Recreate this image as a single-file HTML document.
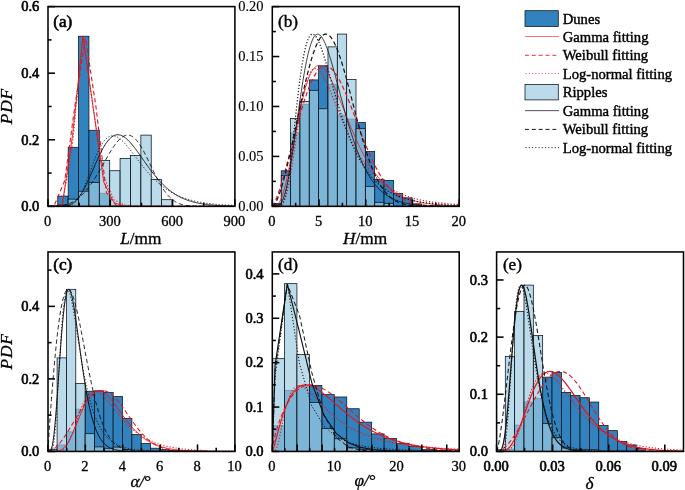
<!DOCTYPE html>
<html><head><meta charset="utf-8"><title>PDF histograms</title>
<style>
html,body{margin:0;padding:0;background:#fff;}
body{width:685px;height:490px;overflow:hidden;}
svg{display:block;will-change:transform;opacity:0.999;}
svg text{font-family:"Liberation Serif",serif;fill:#000;stroke:#000;stroke-width:0.3px;paint-order:stroke;}
svg text.h{stroke-width:0.6px;}
svg text.l{stroke-width:0.12px;}
svg text.m{stroke-width:0.42px;}
</style></head><body>
<svg width="685" height="490" viewBox="0 0 685 490">
<rect width="685" height="490" fill="#fff"/>
<clipPath id="cla"><rect x="48.00" y="6.60" width="186.90" height="199.75"/></clipPath>
<g clip-path="url(#cla)">
<rect x="57.78" y="196.10" width="10.38" height="10.25" fill="#3182bd" stroke="#08111c" stroke-width="0.75"/>
<rect x="68.17" y="147.29" width="10.38" height="59.06" fill="#3182bd" stroke="#08111c" stroke-width="0.75"/>
<rect x="78.55" y="36.23" width="10.38" height="170.12" fill="#3182bd" stroke="#08111c" stroke-width="0.75"/>
<rect x="88.93" y="130.25" width="10.38" height="76.10" fill="#3182bd" stroke="#08111c" stroke-width="0.75"/>
<rect x="99.32" y="193.27" width="10.38" height="13.08" fill="#3182bd" stroke="#08111c" stroke-width="0.75"/>
<rect x="109.70" y="205.35" width="10.38" height="1.00" fill="#3182bd" stroke="#08111c" stroke-width="0.75"/>
<rect x="57.78" y="205.02" width="10.38" height="1.33" fill="#9ecae1" fill-opacity="0.7" stroke="#08111c" stroke-width="0.75"/>
<rect x="68.17" y="199.16" width="10.38" height="7.19" fill="#9ecae1" fill-opacity="0.7" stroke="#08111c" stroke-width="0.75"/>
<rect x="78.55" y="191.24" width="10.38" height="15.11" fill="#9ecae1" fill-opacity="0.7" stroke="#08111c" stroke-width="0.75"/>
<rect x="88.93" y="182.48" width="10.38" height="23.87" fill="#9ecae1" fill-opacity="0.7" stroke="#08111c" stroke-width="0.75"/>
<rect x="99.32" y="160.54" width="10.38" height="45.81" fill="#9ecae1" fill-opacity="0.7" stroke="#08111c" stroke-width="0.75"/>
<rect x="109.70" y="170.73" width="10.38" height="35.62" fill="#9ecae1" fill-opacity="0.7" stroke="#08111c" stroke-width="0.75"/>
<rect x="120.08" y="158.51" width="10.38" height="47.84" fill="#9ecae1" fill-opacity="0.7" stroke="#08111c" stroke-width="0.75"/>
<rect x="130.47" y="155.41" width="10.38" height="50.94" fill="#9ecae1" fill-opacity="0.7" stroke="#08111c" stroke-width="0.75"/>
<rect x="140.85" y="135.11" width="10.38" height="71.24" fill="#9ecae1" fill-opacity="0.7" stroke="#08111c" stroke-width="0.75"/>
<rect x="151.23" y="179.38" width="10.38" height="26.97" fill="#9ecae1" fill-opacity="0.7" stroke="#08111c" stroke-width="0.75"/>
<rect x="161.62" y="199.69" width="10.38" height="6.66" fill="#9ecae1" fill-opacity="0.7" stroke="#08111c" stroke-width="0.75"/>
<polyline points="48.00,206.35 51.84,206.35 62.22,204.92 72.61,134.90 82.99,35.90 93.37,108.92 103.76,182.16 114.14,202.87 124.52,206.01 134.91,206.33 145.29,206.35 155.67,206.35 166.06,206.35 176.44,206.35 186.82,206.35 197.21,206.35 207.59,206.35 217.97,206.35 228.36,206.35 234.90,206.35 234.90,206.35" fill="none" stroke="#e8141c" stroke-width="0.9"/>
<polyline points="48.00,206.35 54.40,205.14 64.78,180.52 75.17,103.82 85.55,38.23 95.93,106.50 106.32,192.41 116.70,206.11 127.08,206.35 137.47,206.35 147.85,206.35 158.23,206.35 168.62,206.35 179.00,206.35 189.38,206.35 199.77,206.35 210.15,206.35 220.53,206.35 230.92,206.35 234.90,206.35 234.90,206.35" fill="none" stroke="#e8141c" stroke-width="1.1" stroke-dasharray="4.4 2.8"/>
<polyline points="48.00,206.35 51.84,206.35 62.22,206.08 72.61,142.39 82.99,37.23 93.37,109.20 103.76,177.31 114.14,199.97 124.52,205.14 134.91,206.14 145.29,206.31 155.67,206.34 166.06,206.35 176.44,206.35 186.82,206.35 197.21,206.35 207.59,206.35 217.97,206.35 228.36,206.35 234.90,206.35 234.90,206.35" fill="none" stroke="#e8141c" stroke-width="1.1" stroke-dasharray="1.2 1.9"/>
<polyline points="48.00,206.35 48.85,206.35 49.71,206.35 50.56,206.35 51.41,206.35 52.27,206.35 53.12,206.35 53.97,206.35 54.83,206.35 55.68,206.35 56.53,206.35 57.39,206.34 58.24,206.34 59.09,206.33 59.95,206.31 60.80,206.29 61.65,206.25 62.51,206.21 63.36,206.15 64.22,206.07 65.07,205.96 65.92,205.83 66.78,205.67 67.63,205.47 68.48,205.23 69.34,204.94 70.19,204.60 71.04,204.20 71.90,203.74 72.75,203.22 73.60,202.62 74.46,201.96 75.31,201.22 76.16,200.40 77.02,199.49 77.87,198.51 78.72,197.44 79.58,196.30 80.43,195.07 81.28,193.75 82.14,192.36 82.99,190.90 83.84,189.36 84.70,187.75 85.55,186.08 86.40,184.35 87.26,182.56 88.11,180.73 88.96,178.86 89.82,176.95 90.67,175.01 91.52,173.06 92.38,171.09 93.23,169.11 94.08,167.13 94.94,165.17 95.79,163.22 96.65,161.29 97.50,159.39 98.35,157.52 99.21,155.70 100.06,153.93 100.91,152.21 101.77,150.56 102.62,148.96 103.47,147.44 104.33,145.99 105.18,144.62 106.03,143.33 106.89,142.13 107.74,141.01 108.59,139.98 109.45,139.04 110.30,138.19 111.15,137.44 112.01,136.78 112.86,136.21 113.71,135.74 114.57,135.36 115.42,135.07 116.27,134.87 117.13,134.76 117.98,134.74 118.83,134.80 119.69,134.95 120.54,135.17 121.39,135.48 122.25,135.86 123.10,136.31 123.95,136.83 124.81,137.41 125.66,138.06 126.52,138.77 127.37,139.53 128.22,140.35 129.08,141.21 129.93,142.12 130.78,143.08 131.64,144.07 132.49,145.10 133.34,146.15 134.20,147.24 135.05,148.36 135.90,149.49 136.76,150.65 137.61,151.82 138.46,153.01 139.32,154.21 140.17,155.42 141.02,156.63 141.88,157.85 142.73,159.07 143.58,160.28 144.44,161.50 145.29,162.71 146.14,163.91 147.00,165.11 147.85,166.30 148.70,167.47 149.56,168.63 150.41,169.78 151.26,170.91 152.12,172.03 152.97,173.13 153.82,174.21 154.68,175.27 155.53,176.31 156.38,177.33 157.24,178.33 158.09,179.31 158.95,180.27 159.80,181.21 160.65,182.12 161.51,183.01 162.36,183.88 163.21,184.73 164.07,185.55 164.92,186.35 165.77,187.13 166.63,187.88 167.48,188.62 168.33,189.33 169.19,190.02 170.04,190.68 170.89,191.33 171.75,191.95 172.60,192.56 173.45,193.14 174.31,193.71 175.16,194.25 176.01,194.77 176.87,195.28 177.72,195.77 178.57,196.24 179.43,196.69 180.28,197.12 181.13,197.54 181.99,197.94 182.84,198.33 183.69,198.70 184.55,199.06 185.40,199.40 186.25,199.73 187.11,200.04 187.96,200.34 188.82,200.63 189.67,200.91 190.52,201.17 191.38,201.42 192.23,201.67 193.08,201.90 193.94,202.12 194.79,202.33 195.64,202.53 196.50,202.72 197.35,202.91 198.20,203.08 199.06,203.25 199.91,203.41 200.76,203.56 201.62,203.71 202.47,203.84 203.32,203.98 204.18,204.10 205.03,204.22 205.88,204.33 206.74,204.44 207.59,204.54 208.44,204.64 209.30,204.73 210.15,204.82 211.00,204.90 211.86,204.98 212.71,205.06 213.56,205.13 214.42,205.19 215.27,205.26 216.12,205.32 216.98,205.38 217.83,205.43 218.68,205.48 219.54,205.53 220.39,205.58 221.25,205.62 222.10,205.66 222.95,205.70 223.81,205.74 224.66,205.77 225.51,205.81 226.37,205.84 227.22,205.87 228.07,205.90 228.93,205.92 229.78,205.95 230.63,205.97 231.49,205.99 232.34,206.01 233.19,206.03 234.05,206.05 234.90,206.07" fill="none" stroke="#111" stroke-width="0.9"/>
<polyline points="48.00,206.35 48.85,206.35 49.71,206.35 50.56,206.35 51.41,206.34 52.27,206.33 53.12,206.31 53.97,206.29 54.83,206.26 55.68,206.22 56.53,206.17 57.39,206.10 58.24,206.03 59.09,205.94 59.95,205.84 60.80,205.73 61.65,205.59 62.51,205.44 63.36,205.27 64.22,205.08 65.07,204.87 65.92,204.64 66.78,204.39 67.63,204.11 68.48,203.80 69.34,203.47 70.19,203.11 71.04,202.73 71.90,202.31 72.75,201.87 73.60,201.40 74.46,200.89 75.31,200.35 76.16,199.78 77.02,199.18 77.87,198.54 78.72,197.86 79.58,197.15 80.43,196.41 81.28,195.63 82.14,194.81 82.99,193.95 83.84,193.06 84.70,192.13 85.55,191.17 86.40,190.16 87.26,189.12 88.11,188.05 88.96,186.94 89.82,185.79 90.67,184.61 91.52,183.40 92.38,182.15 93.23,180.87 94.08,179.57 94.94,178.23 95.79,176.87 96.65,175.48 97.50,174.07 98.35,172.64 99.21,171.19 100.06,169.72 100.91,168.24 101.77,166.75 102.62,165.25 103.47,163.74 104.33,162.24 105.18,160.73 106.03,159.23 106.89,157.74 107.74,156.27 108.59,154.80 109.45,153.36 110.30,151.95 111.15,150.56 112.01,149.20 112.86,147.89 113.71,146.61 114.57,145.38 115.42,144.20 116.27,143.07 117.13,142.01 117.98,141.00 118.83,140.06 119.69,139.20 120.54,138.40 121.39,137.69 122.25,137.05 123.10,136.50 123.95,136.04 124.81,135.66 125.66,135.38 126.52,135.20 127.37,135.11 128.22,135.11 129.08,135.22 129.93,135.42 130.78,135.73 131.64,136.13 132.49,136.63 133.34,137.23 134.20,137.92 135.05,138.71 135.90,139.60 136.76,140.57 137.61,141.63 138.46,142.77 139.32,143.99 140.17,145.28 141.02,146.65 141.88,148.08 142.73,149.58 143.58,151.13 144.44,152.73 145.29,154.37 146.14,156.05 147.00,157.77 147.85,159.51 148.70,161.27 149.56,163.04 150.41,164.83 151.26,166.62 152.12,168.40 152.97,170.17 153.82,171.93 154.68,173.67 155.53,175.39 156.38,177.07 157.24,178.72 158.09,180.34 158.95,181.91 159.80,183.44 160.65,184.92 161.51,186.34 162.36,187.72 163.21,189.04 164.07,190.30 164.92,191.51 165.77,192.66 166.63,193.75 167.48,194.78 168.33,195.75 169.19,196.67 170.04,197.53 170.89,198.33 171.75,199.08 172.60,199.77 173.45,200.42 174.31,201.02 175.16,201.57 176.01,202.07 176.87,202.53 177.72,202.95 178.57,203.34 179.43,203.69 180.28,204.00 181.13,204.28 181.99,204.54 182.84,204.77 183.69,204.97 184.55,205.15 185.40,205.31 186.25,205.46 187.11,205.58 187.96,205.69 188.82,205.79 189.67,205.87 190.52,205.94 191.38,206.00 192.23,206.06 193.08,206.11 193.94,206.15 194.79,206.18 195.64,206.21 196.50,206.23 197.35,206.25 198.20,206.27 199.06,206.28 199.91,206.30 200.76,206.31 201.62,206.31 202.47,206.32 203.32,206.33 204.18,206.33 205.03,206.34 205.88,206.34 206.74,206.34 207.59,206.34 208.44,206.34 209.30,206.35 210.15,206.35 211.00,206.35 211.86,206.35 212.71,206.35 213.56,206.35 214.42,206.35 215.27,206.35 216.12,206.35 216.98,206.35 217.83,206.35 218.68,206.35 219.54,206.35 220.39,206.35 221.25,206.35 222.10,206.35 222.95,206.35 223.81,206.35 224.66,206.35 225.51,206.35 226.37,206.35 227.22,206.35 228.07,206.35 228.93,206.35 229.78,206.35 230.63,206.35 231.49,206.35 232.34,206.35 233.19,206.35 234.05,206.35 234.90,206.35" fill="none" stroke="#111" stroke-width="0.9" stroke-dasharray="4.4 2.8"/>
<polyline points="48.00,206.35 48.85,206.35 49.71,206.35 50.56,206.35 51.41,206.35 52.27,206.35 53.12,206.35 53.97,206.35 54.83,206.35 55.68,206.35 56.53,206.35 57.39,206.35 58.24,206.35 59.09,206.35 59.95,206.35 60.80,206.35 61.65,206.34 62.51,206.34 63.36,206.33 64.22,206.31 65.07,206.27 65.92,206.23 66.78,206.16 67.63,206.06 68.48,205.92 69.34,205.73 70.19,205.49 71.04,205.18 71.90,204.80 72.75,204.33 73.60,203.77 74.46,203.10 75.31,202.32 76.16,201.42 77.02,200.40 77.87,199.26 78.72,197.99 79.58,196.59 80.43,195.07 81.28,193.44 82.14,191.69 82.99,189.83 83.84,187.87 84.70,185.83 85.55,183.71 86.40,181.52 87.26,179.28 88.11,177.00 88.96,174.69 89.82,172.37 90.67,170.04 91.52,167.72 92.38,165.42 93.23,163.16 94.08,160.94 94.94,158.77 95.79,156.67 96.65,154.65 97.50,152.70 98.35,150.84 99.21,149.08 100.06,147.41 100.91,145.86 101.77,144.41 102.62,143.07 103.47,141.84 104.33,140.73 105.18,139.73 106.03,138.85 106.89,138.08 107.74,137.43 108.59,136.89 109.45,136.46 110.30,136.13 111.15,135.91 112.01,135.79 112.86,135.77 113.71,135.84 114.57,136.01 115.42,136.26 116.27,136.59 117.13,136.99 117.98,137.47 118.83,138.02 119.69,138.64 120.54,139.31 121.39,140.04 122.25,140.83 123.10,141.66 123.95,142.53 124.81,143.44 125.66,144.39 126.52,145.37 127.37,146.38 128.22,147.42 129.08,148.47 129.93,149.55 130.78,150.64 131.64,151.74 132.49,152.86 133.34,153.98 134.20,155.10 135.05,156.23 135.90,157.36 136.76,158.49 137.61,159.61 138.46,160.73 139.32,161.85 140.17,162.95 141.02,164.05 141.88,165.13 142.73,166.21 143.58,167.27 144.44,168.31 145.29,169.35 146.14,170.36 147.00,171.36 147.85,172.35 148.70,173.32 149.56,174.26 150.41,175.20 151.26,176.11 152.12,177.00 152.97,177.88 153.82,178.74 154.68,179.57 155.53,180.39 156.38,181.19 157.24,181.97 158.09,182.74 158.95,183.48 159.80,184.20 160.65,184.91 161.51,185.60 162.36,186.27 163.21,186.92 164.07,187.55 164.92,188.17 165.77,188.76 166.63,189.35 167.48,189.91 168.33,190.46 169.19,190.99 170.04,191.51 170.89,192.01 171.75,192.50 172.60,192.97 173.45,193.43 174.31,193.87 175.16,194.30 176.01,194.71 176.87,195.12 177.72,195.51 178.57,195.88 179.43,196.25 180.28,196.60 181.13,196.94 181.99,197.28 182.84,197.59 183.69,197.90 184.55,198.20 185.40,198.49 186.25,198.77 187.11,199.04 187.96,199.30 188.82,199.55 189.67,199.80 190.52,200.03 191.38,200.26 192.23,200.48 193.08,200.69 193.94,200.89 194.79,201.09 195.64,201.28 196.50,201.46 197.35,201.64 198.20,201.81 199.06,201.98 199.91,202.14 200.76,202.29 201.62,202.44 202.47,202.58 203.32,202.72 204.18,202.85 205.03,202.98 205.88,203.10 206.74,203.22 207.59,203.33 208.44,203.45 209.30,203.55 210.15,203.65 211.00,203.75 211.86,203.85 212.71,203.94 213.56,204.03 214.42,204.11 215.27,204.20 216.12,204.28 216.98,204.35 217.83,204.42 218.68,204.50 219.54,204.56 220.39,204.63 221.25,204.69 222.10,204.75 222.95,204.81 223.81,204.87 224.66,204.92 225.51,204.98 226.37,205.03 227.22,205.08 228.07,205.12 228.93,205.17 229.78,205.21 230.63,205.25 231.49,205.29 232.34,205.33 233.19,205.37 234.05,205.41 234.90,205.44" fill="none" stroke="#111" stroke-width="0.9" stroke-dasharray="1.2 1.9"/>
</g>
<line x1="48.00" x2="48.00" y1="206.35" y2="199.35" stroke="#000" stroke-width="1.55"/>
<line x1="110.30" x2="110.30" y1="206.35" y2="199.35" stroke="#000" stroke-width="1.55"/>
<line x1="172.60" x2="172.60" y1="206.35" y2="199.35" stroke="#000" stroke-width="1.55"/>
<line x1="234.90" x2="234.90" y1="206.35" y2="199.35" stroke="#000" stroke-width="1.55"/>
<line x1="79.15" x2="79.15" y1="206.35" y2="202.75" stroke="#000" stroke-width="1.55"/>
<line x1="141.45" x2="141.45" y1="206.35" y2="202.75" stroke="#000" stroke-width="1.55"/>
<line x1="203.75" x2="203.75" y1="206.35" y2="202.75" stroke="#000" stroke-width="1.55"/>
<line x1="48.00" x2="55.00" y1="206.35" y2="206.35" stroke="#000" stroke-width="1.55"/>
<line x1="48.00" x2="55.00" y1="139.77" y2="139.77" stroke="#000" stroke-width="1.55"/>
<line x1="48.00" x2="55.00" y1="73.18" y2="73.18" stroke="#000" stroke-width="1.55"/>
<line x1="48.00" x2="55.00" y1="6.60" y2="6.60" stroke="#000" stroke-width="1.55"/>
<line x1="48.00" x2="51.60" y1="173.06" y2="173.06" stroke="#000" stroke-width="1.55"/>
<line x1="48.00" x2="51.60" y1="106.47" y2="106.47" stroke="#000" stroke-width="1.55"/>
<line x1="48.00" x2="51.60" y1="39.89" y2="39.89" stroke="#000" stroke-width="1.55"/>
<rect x="48.00" y="6.60" width="186.90" height="199.75" fill="none" stroke="#000" stroke-width="1.55"/>
<text x="47.50" y="226.05" font-size="14.5" class="r" text-anchor="middle">0</text>
<text x="109.80" y="226.05" font-size="14.5" class="r" text-anchor="middle">300</text>
<text x="172.10" y="226.05" font-size="14.5" class="r" text-anchor="middle">600</text>
<text x="234.40" y="226.05" font-size="14.5" class="r" text-anchor="middle">900</text>
<text x="39.30" y="211.15" font-size="14.5" class="h" text-anchor="end">0.0</text>
<text x="39.30" y="144.57" font-size="14.5" class="h" text-anchor="end">0.2</text>
<text x="39.30" y="77.98" font-size="14.5" class="h" text-anchor="end">0.4</text>
<text x="39.30" y="11.40" font-size="14.5" class="h" text-anchor="end">0.6</text>
<text x="140.85" y="243.55" font-size="17.3" text-anchor="middle"><tspan font-style="italic">L</tspan>/mm</text>
<text transform="translate(11.9,106.17) rotate(-90)" font-size="17.3" letter-spacing="0.9" font-style="italic" text-anchor="middle">PDF</text>
<text x="53.20" y="26.80" font-size="17.2" class="h">(a)</text>
<clipPath id="clb"><rect x="272.30" y="6.60" width="186.90" height="199.75"/></clipPath>
<g clip-path="url(#clb)">
<rect x="271.90" y="203.35" width="9.34" height="3.00" fill="#3182bd" stroke="#08111c" stroke-width="0.75"/>
<rect x="281.25" y="170.79" width="9.34" height="35.56" fill="#3182bd" stroke="#08111c" stroke-width="0.75"/>
<rect x="290.59" y="132.94" width="9.34" height="73.41" fill="#3182bd" stroke="#08111c" stroke-width="0.75"/>
<rect x="299.94" y="104.48" width="9.34" height="101.87" fill="#3182bd" stroke="#08111c" stroke-width="0.75"/>
<rect x="309.28" y="79.91" width="9.34" height="126.44" fill="#3182bd" stroke="#08111c" stroke-width="0.75"/>
<rect x="318.62" y="65.83" width="9.34" height="140.52" fill="#3182bd" stroke="#08111c" stroke-width="0.75"/>
<rect x="327.97" y="84.60" width="9.34" height="121.75" fill="#3182bd" stroke="#08111c" stroke-width="0.75"/>
<rect x="337.32" y="115.06" width="9.34" height="91.29" fill="#3182bd" stroke="#08111c" stroke-width="0.75"/>
<rect x="346.66" y="119.06" width="9.34" height="87.29" fill="#3182bd" stroke="#08111c" stroke-width="0.75"/>
<rect x="356.00" y="122.55" width="9.34" height="83.80" fill="#3182bd" stroke="#08111c" stroke-width="0.75"/>
<rect x="365.35" y="151.52" width="9.34" height="54.83" fill="#3182bd" stroke="#08111c" stroke-width="0.75"/>
<rect x="374.70" y="179.38" width="9.34" height="26.97" fill="#3182bd" stroke="#08111c" stroke-width="0.75"/>
<rect x="384.04" y="180.38" width="9.34" height="25.97" fill="#3182bd" stroke="#08111c" stroke-width="0.75"/>
<rect x="393.38" y="193.57" width="9.34" height="12.78" fill="#3182bd" stroke="#08111c" stroke-width="0.75"/>
<rect x="402.73" y="197.86" width="9.34" height="8.49" fill="#3182bd" stroke="#08111c" stroke-width="0.75"/>
<rect x="412.08" y="203.85" width="9.34" height="2.50" fill="#3182bd" stroke="#08111c" stroke-width="0.75"/>
<rect x="271.90" y="204.35" width="9.34" height="2.00" fill="#9ecae1" fill-opacity="0.7" stroke="#08111c" stroke-width="0.75"/>
<rect x="281.25" y="175.39" width="9.34" height="30.96" fill="#9ecae1" fill-opacity="0.7" stroke="#08111c" stroke-width="0.75"/>
<rect x="290.59" y="118.46" width="9.34" height="87.89" fill="#9ecae1" fill-opacity="0.7" stroke="#08111c" stroke-width="0.75"/>
<rect x="299.94" y="101.48" width="9.34" height="104.87" fill="#9ecae1" fill-opacity="0.7" stroke="#08111c" stroke-width="0.75"/>
<rect x="309.28" y="90.30" width="9.34" height="116.05" fill="#9ecae1" fill-opacity="0.7" stroke="#08111c" stroke-width="0.75"/>
<rect x="318.62" y="108.77" width="9.34" height="97.58" fill="#9ecae1" fill-opacity="0.7" stroke="#08111c" stroke-width="0.75"/>
<rect x="327.97" y="46.85" width="9.34" height="159.50" fill="#9ecae1" fill-opacity="0.7" stroke="#08111c" stroke-width="0.75"/>
<rect x="337.32" y="34.07" width="9.34" height="172.28" fill="#9ecae1" fill-opacity="0.7" stroke="#08111c" stroke-width="0.75"/>
<rect x="346.66" y="79.51" width="9.34" height="126.84" fill="#9ecae1" fill-opacity="0.7" stroke="#08111c" stroke-width="0.75"/>
<rect x="356.00" y="128.65" width="9.34" height="77.70" fill="#9ecae1" fill-opacity="0.7" stroke="#08111c" stroke-width="0.75"/>
<rect x="365.35" y="186.38" width="9.34" height="19.98" fill="#9ecae1" fill-opacity="0.7" stroke="#08111c" stroke-width="0.75"/>
<rect x="374.70" y="202.35" width="9.34" height="4.00" fill="#9ecae1" fill-opacity="0.7" stroke="#08111c" stroke-width="0.75"/>
<rect x="384.04" y="203.35" width="9.34" height="3.00" fill="#9ecae1" fill-opacity="0.7" stroke="#08111c" stroke-width="0.75"/>
<polyline points="272.30,206.35 273.15,206.35 274.01,206.30 274.86,206.18 275.71,205.92 276.57,205.47 277.42,204.81 278.27,203.89 279.13,202.70 279.98,201.21 280.83,199.42 281.69,197.33 282.54,194.93 283.39,192.24 284.25,189.26 285.10,186.01 285.95,182.52 286.81,178.80 287.66,174.87 288.52,170.77 289.37,166.51 290.22,162.13 291.08,157.64 291.93,153.09 292.78,148.48 293.64,143.84 294.49,139.21 295.34,134.60 296.20,130.03 297.05,125.53 297.90,121.11 298.76,116.79 299.61,112.59 300.46,108.52 301.32,104.60 302.17,100.83 303.02,97.24 303.88,93.81 304.73,90.57 305.58,87.53 306.44,84.67 307.29,82.02 308.14,79.57 309.00,77.32 309.85,75.27 310.70,73.43 311.56,71.79 312.41,70.35 313.26,69.11 314.12,68.07 314.97,67.22 315.82,66.55 316.68,66.07 317.53,65.76 318.38,65.63 319.24,65.66 320.09,65.85 320.95,66.19 321.80,66.68 322.65,67.32 323.51,68.08 324.36,68.97 325.21,69.99 326.07,71.11 326.92,72.35 327.77,73.68 328.63,75.11 329.48,76.62 330.33,78.22 331.19,79.88 332.04,81.62 332.89,83.42 333.75,85.28 334.60,87.19 335.45,89.14 336.31,91.13 337.16,93.16 338.01,95.22 338.87,97.30 339.72,99.41 340.57,101.53 341.43,103.67 342.28,105.82 343.13,107.97 343.99,110.12 344.84,112.27 345.69,114.42 346.55,116.56 347.40,118.69 348.25,120.81 349.11,122.91 349.96,124.99 350.82,127.06 351.67,129.10 352.52,131.13 353.38,133.12 354.23,135.10 355.08,137.04 355.94,138.96 356.79,140.84 357.64,142.70 358.50,144.53 359.35,146.32 360.20,148.08 361.06,149.80 361.91,151.50 362.76,153.16 363.62,154.78 364.47,156.37 365.32,157.93 366.18,159.45 367.03,160.93 367.88,162.38 368.74,163.80 369.59,165.18 370.44,166.53 371.30,167.84 372.15,169.12 373.00,170.37 373.86,171.58 374.71,172.76 375.56,173.91 376.42,175.02 377.27,176.11 378.12,177.16 378.98,178.18 379.83,179.18 380.68,180.14 381.54,181.08 382.39,181.98 383.25,182.86 384.10,183.71 384.95,184.54 385.81,185.34 386.66,186.11 387.51,186.86 388.37,187.59 389.22,188.29 390.07,188.97 390.93,189.62 391.78,190.26 392.63,190.87 393.49,191.46 394.34,192.03 395.19,192.59 396.05,193.12 396.90,193.63 397.75,194.13 398.61,194.61 399.46,195.07 400.31,195.52 401.17,195.95 402.02,196.36 402.87,196.76 403.73,197.14 404.58,197.51 405.43,197.87 406.29,198.21 407.14,198.54 407.99,198.86 408.85,199.17 409.70,199.46 410.55,199.75 411.41,200.02 412.26,200.28 413.12,200.53 413.97,200.77 414.82,201.01 415.68,201.23 416.53,201.45 417.38,201.65 418.24,201.85 419.09,202.04 419.94,202.22 420.80,202.40 421.65,202.57 422.50,202.73 423.36,202.89 424.21,203.03 425.06,203.18 425.92,203.31 426.77,203.45 427.62,203.57 428.48,203.69 429.33,203.81 430.18,203.92 431.04,204.03 431.89,204.13 432.74,204.23 433.60,204.32 434.45,204.41 435.30,204.49 436.16,204.58 437.01,204.66 437.86,204.73 438.72,204.80 439.57,204.87 440.42,204.94 441.28,205.00 442.13,205.06 442.98,205.12 443.84,205.18 444.69,205.23 445.55,205.28 446.40,205.33 447.25,205.37 448.11,205.42 448.96,205.46 449.81,205.50 450.67,205.54 451.52,205.58 452.37,205.61 453.23,205.65 454.08,205.68 454.93,205.71 455.79,205.74 456.64,205.77 457.49,205.79 458.35,205.82 459.20,205.85" fill="none" stroke="#e8141c" stroke-width="0.8"/>
<polyline points="272.30,206.35 273.15,205.41 274.01,203.95 274.86,202.20 275.71,200.23 276.57,198.08 277.42,195.79 278.27,193.36 279.13,190.81 279.98,188.16 280.83,185.41 281.69,182.58 282.54,179.68 283.39,176.71 284.25,173.68 285.10,170.60 285.95,167.48 286.81,164.31 287.66,161.12 288.52,157.90 289.37,154.66 290.22,151.41 291.08,148.15 291.93,144.88 292.78,141.63 293.64,138.38 294.49,135.15 295.34,131.94 296.20,128.75 297.05,125.60 297.90,122.48 298.76,119.41 299.61,116.38 300.46,113.41 301.32,110.49 302.17,107.63 303.02,104.84 303.88,102.12 304.73,99.47 305.58,96.91 306.44,94.42 307.29,92.02 308.14,89.71 309.00,87.50 309.85,85.38 310.70,83.36 311.56,81.44 312.41,79.62 313.26,77.92 314.12,76.32 314.97,74.83 315.82,73.46 316.68,72.20 317.53,71.05 318.38,70.02 319.24,69.11 320.09,68.32 320.95,67.64 321.80,67.08 322.65,66.64 323.51,66.32 324.36,66.11 325.21,66.03 326.07,66.05 326.92,66.19 327.77,66.44 328.63,66.81 329.48,67.28 330.33,67.86 331.19,68.54 332.04,69.33 332.89,70.21 333.75,71.19 334.60,72.27 335.45,73.44 336.31,74.69 337.16,76.03 338.01,77.46 338.87,78.96 339.72,80.53 340.57,82.18 341.43,83.89 342.28,85.66 343.13,87.50 343.99,89.39 344.84,91.33 345.69,93.33 346.55,95.36 347.40,97.44 348.25,99.55 349.11,101.70 349.96,103.87 350.82,106.07 351.67,108.29 352.52,110.53 353.38,112.78 354.23,115.04 355.08,117.31 355.94,119.58 356.79,121.86 357.64,124.13 358.50,126.39 359.35,128.65 360.20,130.89 361.06,133.12 361.91,135.34 362.76,137.53 363.62,139.70 364.47,141.85 365.32,143.97 366.18,146.06 367.03,148.12 367.88,150.15 368.74,152.15 369.59,154.11 370.44,156.03 371.30,157.92 372.15,159.77 373.00,161.58 373.86,163.34 374.71,165.07 375.56,166.75 376.42,168.40 377.27,169.99 378.12,171.55 378.98,173.06 379.83,174.53 380.68,175.95 381.54,177.33 382.39,178.67 383.25,179.96 384.10,181.21 384.95,182.42 385.81,183.58 386.66,184.70 387.51,185.78 388.37,186.83 389.22,187.83 390.07,188.79 390.93,189.71 391.78,190.60 392.63,191.45 393.49,192.26 394.34,193.04 395.19,193.78 396.05,194.49 396.90,195.17 397.75,195.82 398.61,196.43 399.46,197.02 400.31,197.58 401.17,198.11 402.02,198.61 402.87,199.09 403.73,199.54 404.58,199.97 405.43,200.38 406.29,200.77 407.14,201.13 407.99,201.47 408.85,201.80 409.70,202.10 410.55,202.39 411.41,202.66 412.26,202.91 413.12,203.15 413.97,203.38 414.82,203.59 415.68,203.79 416.53,203.97 417.38,204.15 418.24,204.31 419.09,204.46 419.94,204.60 420.80,204.73 421.65,204.86 422.50,204.97 423.36,205.08 424.21,205.18 425.06,205.27 425.92,205.36 426.77,205.44 427.62,205.51 428.48,205.58 429.33,205.64 430.18,205.70 431.04,205.76 431.89,205.81 432.74,205.85 433.60,205.89 434.45,205.93 435.30,205.97 436.16,206.00 437.01,206.03 437.86,206.06 438.72,206.09 439.57,206.11 440.42,206.13 441.28,206.15 442.13,206.17 442.98,206.19 443.84,206.20 444.69,206.22 445.55,206.23 446.40,206.24 447.25,206.25 448.11,206.26 448.96,206.27 449.81,206.28 450.67,206.28 451.52,206.29 452.37,206.30 453.23,206.30 454.08,206.31 454.93,206.31 455.79,206.32 456.64,206.32 457.49,206.32 458.35,206.33 459.20,206.33" fill="none" stroke="#e8141c" stroke-width="1.2" stroke-dasharray="4.4 2.8"/>
<polyline points="272.30,206.35 273.15,206.35 274.01,206.35 274.86,206.35 275.71,206.35 276.57,206.35 277.42,206.33 278.27,206.29 279.13,206.19 279.98,205.98 280.83,205.61 281.69,205.00 282.54,204.10 283.39,202.83 284.25,201.15 285.10,199.02 285.95,196.42 286.81,193.33 287.66,189.76 288.52,185.75 289.37,181.32 290.22,176.52 291.08,171.40 291.93,166.01 292.78,160.42 293.64,154.68 294.49,148.86 295.34,143.00 296.20,137.17 297.05,131.42 297.90,125.78 298.76,120.30 299.61,115.01 300.46,109.95 301.32,105.14 302.17,100.59 303.02,96.34 303.88,92.39 304.73,88.74 305.58,85.41 306.44,82.40 307.29,79.70 308.14,77.31 309.00,75.23 309.85,73.45 310.70,71.96 311.56,70.76 312.41,69.82 313.26,69.15 314.12,68.72 314.97,68.52 315.82,68.55 316.68,68.79 317.53,69.22 318.38,69.84 319.24,70.63 320.09,71.57 320.95,72.66 321.80,73.89 322.65,75.24 323.51,76.70 324.36,78.26 325.21,79.91 326.07,81.65 326.92,83.45 327.77,85.32 328.63,87.25 329.48,89.22 330.33,91.24 331.19,93.29 332.04,95.36 332.89,97.46 333.75,99.57 334.60,101.70 335.45,103.83 336.31,105.96 337.16,108.09 338.01,110.21 338.87,112.33 339.72,114.43 340.57,116.52 341.43,118.59 342.28,120.63 343.13,122.66 343.99,124.66 344.84,126.64 345.69,128.59 346.55,130.51 347.40,132.40 348.25,134.26 349.11,136.09 349.96,137.89 350.82,139.65 351.67,141.38 352.52,143.08 353.38,144.74 354.23,146.37 355.08,147.96 355.94,149.52 356.79,151.05 357.64,152.54 358.50,154.00 359.35,155.43 360.20,156.82 361.06,158.18 361.91,159.51 362.76,160.80 363.62,162.07 364.47,163.30 365.32,164.50 366.18,165.67 367.03,166.81 367.88,167.92 368.74,169.00 369.59,170.06 370.44,171.08 371.30,172.08 372.15,173.06 373.00,174.00 373.86,174.92 374.71,175.82 375.56,176.69 376.42,177.54 377.27,178.36 378.12,179.16 378.98,179.94 379.83,180.70 380.68,181.44 381.54,182.15 382.39,182.85 383.25,183.52 384.10,184.18 384.95,184.82 385.81,185.44 386.66,186.04 387.51,186.62 388.37,187.19 389.22,187.74 390.07,188.28 390.93,188.80 391.78,189.30 392.63,189.79 393.49,190.27 394.34,190.73 395.19,191.18 396.05,191.62 396.90,192.04 397.75,192.45 398.61,192.85 399.46,193.24 400.31,193.62 401.17,193.98 402.02,194.34 402.87,194.68 403.73,195.01 404.58,195.34 405.43,195.65 406.29,195.96 407.14,196.25 407.99,196.54 408.85,196.82 409.70,197.09 410.55,197.36 411.41,197.61 412.26,197.86 413.12,198.10 413.97,198.34 414.82,198.56 415.68,198.78 416.53,199.00 417.38,199.20 418.24,199.41 419.09,199.60 419.94,199.79 420.80,199.98 421.65,200.15 422.50,200.33 423.36,200.50 424.21,200.66 425.06,200.82 425.92,200.97 426.77,201.12 427.62,201.27 428.48,201.41 429.33,201.55 430.18,201.68 431.04,201.81 431.89,201.94 432.74,202.06 433.60,202.18 434.45,202.29 435.30,202.40 436.16,202.51 437.01,202.62 437.86,202.72 438.72,202.82 439.57,202.92 440.42,203.01 441.28,203.10 442.13,203.19 442.98,203.28 443.84,203.36 444.69,203.44 445.55,203.52 446.40,203.60 447.25,203.67 448.11,203.74 448.96,203.81 449.81,203.88 450.67,203.95 451.52,204.01 452.37,204.08 453.23,204.14 454.08,204.20 454.93,204.25 455.79,204.31 456.64,204.36 457.49,204.42 458.35,204.47 459.20,204.52" fill="none" stroke="#e8141c" stroke-width="1.2" stroke-dasharray="1.2 1.9"/>
<polyline points="272.30,206.35 273.15,206.35 274.01,206.35 274.86,206.33 275.71,206.27 276.57,206.15 277.42,205.92 278.27,205.55 279.13,204.99 279.98,204.20 280.83,203.14 281.69,201.77 282.54,200.07 283.39,198.01 284.25,195.58 285.10,192.76 285.95,189.55 286.81,185.96 287.66,182.00 288.52,177.67 289.37,173.02 290.22,168.05 291.08,162.80 291.93,157.31 292.78,151.60 293.64,145.72 294.49,139.70 295.34,133.59 296.20,127.42 297.05,121.23 297.90,115.06 298.76,108.94 299.61,102.91 300.46,97.01 301.32,91.26 302.17,85.70 303.02,80.34 303.88,75.21 304.73,70.33 305.58,65.73 306.44,61.41 307.29,57.39 308.14,53.68 309.00,50.29 309.85,47.22 310.70,44.48 311.56,42.07 312.41,39.99 313.26,38.23 314.12,36.80 314.97,35.68 315.82,34.88 316.68,34.38 317.53,34.17 318.38,34.24 319.24,34.59 320.09,35.20 320.95,36.05 321.80,37.15 322.65,38.47 323.51,40.00 324.36,41.73 325.21,43.64 326.07,45.72 326.92,47.97 327.77,50.36 328.63,52.88 329.48,55.52 330.33,58.26 331.19,61.11 332.04,64.03 332.89,67.03 333.75,70.09 334.60,73.21 335.45,76.36 336.31,79.55 337.16,82.76 338.01,85.99 338.87,89.22 339.72,92.45 340.57,95.68 341.43,98.89 342.28,102.08 343.13,105.25 343.99,108.39 344.84,111.49 345.69,114.56 346.55,117.58 347.40,120.55 348.25,123.47 349.11,126.34 349.96,129.16 350.82,131.91 351.67,134.61 352.52,137.25 353.38,139.82 354.23,142.34 355.08,144.78 355.94,147.17 356.79,149.49 357.64,151.74 358.50,153.93 359.35,156.05 360.20,158.11 361.06,160.11 361.91,162.04 362.76,163.91 363.62,165.71 364.47,167.46 365.32,169.15 366.18,170.77 367.03,172.34 367.88,173.85 368.74,175.31 369.59,176.71 370.44,178.06 371.30,179.35 372.15,180.60 373.00,181.79 373.86,182.94 374.71,184.04 375.56,185.10 376.42,186.11 377.27,187.09 378.12,188.02 378.98,188.91 379.83,189.76 380.68,190.57 381.54,191.35 382.39,192.10 383.25,192.81 384.10,193.49 384.95,194.14 385.81,194.76 386.66,195.35 387.51,195.91 388.37,196.45 389.22,196.96 390.07,197.45 390.93,197.91 391.78,198.35 392.63,198.77 393.49,199.17 394.34,199.55 395.19,199.92 396.05,200.26 396.90,200.59 397.75,200.90 398.61,201.19 399.46,201.47 400.31,201.74 401.17,201.99 402.02,202.23 402.87,202.46 403.73,202.67 404.58,202.87 405.43,203.07 406.29,203.25 407.14,203.42 407.99,203.59 408.85,203.74 409.70,203.89 410.55,204.03 411.41,204.16 412.26,204.29 413.12,204.40 413.97,204.52 414.82,204.62 415.68,204.72 416.53,204.82 417.38,204.90 418.24,204.99 419.09,205.07 419.94,205.14 420.80,205.21 421.65,205.28 422.50,205.34 423.36,205.40 424.21,205.46 425.06,205.51 425.92,205.56 426.77,205.61 427.62,205.65 428.48,205.69 429.33,205.73 430.18,205.77 431.04,205.80 431.89,205.84 432.74,205.87 433.60,205.90 434.45,205.93 435.30,205.95 436.16,205.98 437.01,206.00 437.86,206.02 438.72,206.04 439.57,206.06 440.42,206.08 441.28,206.09 442.13,206.11 442.98,206.12 443.84,206.14 444.69,206.15 445.55,206.16 446.40,206.18 447.25,206.19 448.11,206.20 448.96,206.21 449.81,206.21 450.67,206.22 451.52,206.23 452.37,206.24 453.23,206.25 454.08,206.25 454.93,206.26 455.79,206.26 456.64,206.27 457.49,206.27 458.35,206.28 459.20,206.28" fill="none" stroke="#111" stroke-width="0.8"/>
<polyline points="272.30,206.35 273.15,205.93 274.01,205.06 274.86,203.89 275.71,202.45 276.57,200.78 277.42,198.90 278.27,196.82 279.13,194.56 279.98,192.13 280.83,189.54 281.69,186.80 282.54,183.92 283.39,180.90 284.25,177.76 285.10,174.50 285.95,171.13 286.81,167.66 287.66,164.10 288.52,160.45 289.37,156.72 290.22,152.92 291.08,149.05 291.93,145.13 292.78,141.17 293.64,137.16 294.49,133.13 295.34,129.07 296.20,125.00 297.05,120.92 297.90,116.84 298.76,112.78 299.61,108.73 300.46,104.72 301.32,100.74 302.17,96.81 303.02,92.93 303.88,89.11 304.73,85.37 305.58,81.70 306.44,78.12 307.29,74.63 308.14,71.25 309.00,67.98 309.85,64.82 310.70,61.79 311.56,58.88 312.41,56.12 313.26,53.49 314.12,51.02 314.97,48.70 315.82,46.54 316.68,44.54 317.53,42.71 318.38,41.04 319.24,39.56 320.09,38.25 320.95,37.12 321.80,36.17 322.65,35.40 323.51,34.82 324.36,34.42 325.21,34.20 326.07,34.17 326.92,34.31 327.77,34.64 328.63,35.15 329.48,35.83 330.33,36.69 331.19,37.71 332.04,38.90 332.89,40.25 333.75,41.76 334.60,43.42 335.45,45.23 336.31,47.18 337.16,49.26 338.01,51.48 338.87,53.81 339.72,56.26 340.57,58.82 341.43,61.49 342.28,64.24 343.13,67.09 343.99,70.01 344.84,73.01 345.69,76.07 346.55,79.19 347.40,82.36 348.25,85.57 349.11,88.82 349.96,92.09 350.82,95.38 351.67,98.69 352.52,102.01 353.38,105.32 354.23,108.63 355.08,111.93 355.94,115.21 356.79,118.46 357.64,121.69 358.50,124.88 359.35,128.03 360.20,131.13 361.06,134.19 361.91,137.19 362.76,140.14 363.62,143.02 364.47,145.85 365.32,148.61 366.18,151.30 367.03,153.91 367.88,156.46 368.74,158.93 369.59,161.33 370.44,163.65 371.30,165.90 372.15,168.07 373.00,170.16 373.86,172.17 374.71,174.10 375.56,175.96 376.42,177.74 377.27,179.45 378.12,181.08 378.98,182.64 379.83,184.13 380.68,185.54 381.54,186.89 382.39,188.17 383.25,189.38 384.10,190.53 384.95,191.62 385.81,192.65 386.66,193.62 387.51,194.54 388.37,195.40 389.22,196.21 390.07,196.97 390.93,197.69 391.78,198.36 392.63,198.98 393.49,199.57 394.34,200.11 395.19,200.62 396.05,201.09 396.90,201.53 397.75,201.94 398.61,202.32 399.46,202.67 400.31,202.99 401.17,203.29 402.02,203.56 402.87,203.82 403.73,204.05 404.58,204.26 405.43,204.46 406.29,204.64 407.14,204.80 407.99,204.96 408.85,205.09 409.70,205.22 410.55,205.33 411.41,205.44 412.26,205.53 413.12,205.61 413.97,205.69 414.82,205.76 415.68,205.83 416.53,205.88 417.38,205.93 418.24,205.98 419.09,206.02 419.94,206.06 420.80,206.09 421.65,206.12 422.50,206.15 423.36,206.17 424.21,206.19 425.06,206.21 425.92,206.23 426.77,206.24 427.62,206.26 428.48,206.27 429.33,206.28 430.18,206.29 431.04,206.30 431.89,206.30 432.74,206.31 433.60,206.31 434.45,206.32 435.30,206.32 436.16,206.33 437.01,206.33 437.86,206.33 438.72,206.33 439.57,206.34 440.42,206.34 441.28,206.34 442.13,206.34 442.98,206.34 443.84,206.34 444.69,206.34 445.55,206.35 446.40,206.35 447.25,206.35 448.11,206.35 448.96,206.35 449.81,206.35 450.67,206.35 451.52,206.35 452.37,206.35 453.23,206.35 454.08,206.35 454.93,206.35 455.79,206.35 456.64,206.35 457.49,206.35 458.35,206.35 459.20,206.35" fill="none" stroke="#111" stroke-width="1.2" stroke-dasharray="4.4 2.8"/>
<polyline points="272.30,206.35 273.15,206.35 274.01,206.35 274.86,206.35 275.71,206.35 276.57,206.35 277.42,206.33 278.27,206.29 279.13,206.16 279.98,205.90 280.83,205.42 281.69,204.61 282.54,203.38 283.39,201.65 284.25,199.32 285.10,196.34 285.95,192.67 286.81,188.32 287.66,183.30 288.52,177.64 289.37,171.40 290.22,164.66 291.08,157.50 291.93,150.00 292.78,142.27 293.64,134.39 294.49,126.46 295.34,118.55 296.20,110.76 297.05,103.14 297.90,95.77 298.76,88.70 299.61,81.98 300.46,75.65 301.32,69.74 302.17,64.27 303.02,59.26 303.88,54.72 304.73,50.65 305.58,47.06 306.44,43.93 307.29,41.27 308.14,39.06 309.00,37.28 309.85,35.92 310.70,34.96 311.56,34.38 312.41,34.17 313.26,34.29 314.12,34.73 314.97,35.46 315.82,36.47 316.68,37.74 317.53,39.23 318.38,40.94 319.24,42.84 320.09,44.92 320.95,47.15 321.80,49.52 322.65,52.02 323.51,54.62 324.36,57.31 325.21,60.08 326.07,62.92 326.92,65.82 327.77,68.75 328.63,71.72 329.48,74.71 330.33,77.72 331.19,80.73 332.04,83.74 332.89,86.74 333.75,89.73 334.60,92.70 335.45,95.64 336.31,98.55 337.16,101.43 338.01,104.28 338.87,107.08 339.72,109.84 340.57,112.56 341.43,115.23 342.28,117.84 343.13,120.41 343.99,122.93 344.84,125.39 345.69,127.81 346.55,130.16 347.40,132.47 348.25,134.71 349.11,136.91 349.96,139.05 350.82,141.13 351.67,143.16 352.52,145.14 353.38,147.06 354.23,148.94 355.08,150.76 355.94,152.53 356.79,154.25 357.64,155.92 358.50,157.54 359.35,159.12 360.20,160.65 361.06,162.13 361.91,163.57 362.76,164.96 363.62,166.31 364.47,167.63 365.32,168.90 366.18,170.13 367.03,171.32 367.88,172.47 368.74,173.59 369.59,174.67 370.44,175.72 371.30,176.74 372.15,177.72 373.00,178.67 373.86,179.59 374.71,180.48 375.56,181.34 376.42,182.17 377.27,182.97 378.12,183.75 378.98,184.50 379.83,185.23 380.68,185.94 381.54,186.62 382.39,187.27 383.25,187.91 384.10,188.52 384.95,189.12 385.81,189.69 386.66,190.24 387.51,190.78 388.37,191.30 389.22,191.80 390.07,192.28 390.93,192.75 391.78,193.20 392.63,193.64 393.49,194.06 394.34,194.47 395.19,194.86 396.05,195.24 396.90,195.61 397.75,195.96 398.61,196.30 399.46,196.64 400.31,196.96 401.17,197.27 402.02,197.56 402.87,197.85 403.73,198.13 404.58,198.40 405.43,198.66 406.29,198.91 407.14,199.16 407.99,199.39 408.85,199.62 409.70,199.84 410.55,200.05 411.41,200.26 412.26,200.45 413.12,200.64 413.97,200.83 414.82,201.01 415.68,201.18 416.53,201.35 417.38,201.51 418.24,201.66 419.09,201.82 419.94,201.96 420.80,202.10 421.65,202.24 422.50,202.37 423.36,202.50 424.21,202.62 425.06,202.74 425.92,202.85 426.77,202.96 427.62,203.07 428.48,203.18 429.33,203.28 430.18,203.37 431.04,203.47 431.89,203.56 432.74,203.65 433.60,203.73 434.45,203.81 435.30,203.89 436.16,203.97 437.01,204.04 437.86,204.12 438.72,204.19 439.57,204.25 440.42,204.32 441.28,204.38 442.13,204.44 442.98,204.50 443.84,204.56 444.69,204.61 445.55,204.67 446.40,204.72 447.25,204.77 448.11,204.82 448.96,204.86 449.81,204.91 450.67,204.95 451.52,205.00 452.37,205.04 453.23,205.08 454.08,205.11 454.93,205.15 455.79,205.19 456.64,205.22 457.49,205.26 458.35,205.29 459.20,205.32" fill="none" stroke="#111" stroke-width="1.2" stroke-dasharray="1.2 1.9"/>
</g>
<line x1="272.30" x2="272.30" y1="206.35" y2="199.35" stroke="#000" stroke-width="1.55"/>
<line x1="319.02" x2="319.02" y1="206.35" y2="199.35" stroke="#000" stroke-width="1.55"/>
<line x1="365.75" x2="365.75" y1="206.35" y2="199.35" stroke="#000" stroke-width="1.55"/>
<line x1="412.48" x2="412.48" y1="206.35" y2="199.35" stroke="#000" stroke-width="1.55"/>
<line x1="459.20" x2="459.20" y1="206.35" y2="199.35" stroke="#000" stroke-width="1.55"/>
<line x1="295.66" x2="295.66" y1="206.35" y2="202.75" stroke="#000" stroke-width="1.55"/>
<line x1="342.39" x2="342.39" y1="206.35" y2="202.75" stroke="#000" stroke-width="1.55"/>
<line x1="389.11" x2="389.11" y1="206.35" y2="202.75" stroke="#000" stroke-width="1.55"/>
<line x1="435.84" x2="435.84" y1="206.35" y2="202.75" stroke="#000" stroke-width="1.55"/>
<line x1="272.30" x2="279.30" y1="206.35" y2="206.35" stroke="#000" stroke-width="1.55"/>
<line x1="272.30" x2="279.30" y1="156.41" y2="156.41" stroke="#000" stroke-width="1.55"/>
<line x1="272.30" x2="279.30" y1="106.47" y2="106.47" stroke="#000" stroke-width="1.55"/>
<line x1="272.30" x2="279.30" y1="56.54" y2="56.54" stroke="#000" stroke-width="1.55"/>
<line x1="272.30" x2="279.30" y1="6.60" y2="6.60" stroke="#000" stroke-width="1.55"/>
<line x1="272.30" x2="275.90" y1="181.38" y2="181.38" stroke="#000" stroke-width="1.55"/>
<line x1="272.30" x2="275.90" y1="131.44" y2="131.44" stroke="#000" stroke-width="1.55"/>
<line x1="272.30" x2="275.90" y1="81.51" y2="81.51" stroke="#000" stroke-width="1.55"/>
<line x1="272.30" x2="275.90" y1="31.57" y2="31.57" stroke="#000" stroke-width="1.55"/>
<rect x="272.30" y="6.60" width="186.90" height="199.75" fill="none" stroke="#000" stroke-width="1.55"/>
<text x="271.80" y="226.05" font-size="14.5" class="r" text-anchor="middle">0</text>
<text x="318.52" y="226.05" font-size="14.5" class="r" text-anchor="middle">5</text>
<text x="365.25" y="226.05" font-size="14.5" class="r" text-anchor="middle">10</text>
<text x="411.98" y="226.05" font-size="14.5" class="r" text-anchor="middle">15</text>
<text x="458.70" y="226.05" font-size="14.5" class="r" text-anchor="middle">20</text>
<text x="263.60" y="211.15" font-size="14.5" class="l" text-anchor="end">0.00</text>
<text x="263.60" y="161.21" font-size="14.5" class="l" text-anchor="end">0.05</text>
<text x="263.60" y="111.27" font-size="14.5" class="l" text-anchor="end">0.10</text>
<text x="263.60" y="61.34" font-size="14.5" class="l" text-anchor="end">0.15</text>
<text x="263.60" y="11.40" font-size="14.5" class="l" text-anchor="end">0.20</text>
<text x="365.15" y="243.55" font-size="17.3" text-anchor="middle"><tspan font-style="italic">H</tspan>/mm</text>
<text x="278.00" y="26.60" font-size="17.2" class="m">(b)</text>
<clipPath id="clc"><rect x="48.00" y="251.95" width="186.90" height="199.50"/></clipPath>
<g clip-path="url(#clc)">
<rect x="47.75" y="450.00" width="9.35" height="1.45" fill="#3182bd" stroke="#08111c" stroke-width="0.75"/>
<rect x="57.09" y="444.92" width="9.35" height="6.53" fill="#3182bd" stroke="#08111c" stroke-width="0.75"/>
<rect x="66.44" y="431.86" width="9.35" height="19.59" fill="#3182bd" stroke="#08111c" stroke-width="0.75"/>
<rect x="75.78" y="409.16" width="9.35" height="42.29" fill="#3182bd" stroke="#08111c" stroke-width="0.75"/>
<rect x="85.13" y="391.24" width="9.35" height="60.21" fill="#3182bd" stroke="#08111c" stroke-width="0.75"/>
<rect x="94.47" y="390.87" width="9.35" height="60.58" fill="#3182bd" stroke="#08111c" stroke-width="0.75"/>
<rect x="103.82" y="392.33" width="9.35" height="59.12" fill="#3182bd" stroke="#08111c" stroke-width="0.75"/>
<rect x="113.17" y="396.50" width="9.35" height="54.95" fill="#3182bd" stroke="#08111c" stroke-width="0.75"/>
<rect x="122.51" y="418.33" width="9.35" height="33.12" fill="#3182bd" stroke="#08111c" stroke-width="0.75"/>
<rect x="131.86" y="434.40" width="9.35" height="17.05" fill="#3182bd" stroke="#08111c" stroke-width="0.75"/>
<rect x="141.20" y="443.47" width="9.35" height="7.98" fill="#3182bd" stroke="#08111c" stroke-width="0.75"/>
<rect x="150.55" y="448.19" width="9.35" height="3.26" fill="#3182bd" stroke="#08111c" stroke-width="0.75"/>
<rect x="159.89" y="449.64" width="9.35" height="1.81" fill="#3182bd" stroke="#08111c" stroke-width="0.75"/>
<rect x="169.24" y="450.36" width="9.35" height="1.09" fill="#3182bd" stroke="#08111c" stroke-width="0.75"/>
<rect x="178.58" y="450.72" width="9.35" height="0.73" fill="#3182bd" stroke="#08111c" stroke-width="0.75"/>
<rect x="187.93" y="450.91" width="9.35" height="0.54" fill="#3182bd" stroke="#08111c" stroke-width="0.75"/>
<rect x="197.27" y="451.01" width="9.35" height="0.44" fill="#3182bd" stroke="#08111c" stroke-width="0.75"/>
<rect x="47.75" y="449.27" width="9.35" height="2.18" fill="#9ecae1" fill-opacity="0.7" stroke="#08111c" stroke-width="0.75"/>
<rect x="57.09" y="357.87" width="9.35" height="93.58" fill="#9ecae1" fill-opacity="0.7" stroke="#08111c" stroke-width="0.75"/>
<rect x="66.44" y="289.31" width="9.35" height="162.14" fill="#9ecae1" fill-opacity="0.7" stroke="#08111c" stroke-width="0.75"/>
<rect x="75.78" y="383.62" width="9.35" height="67.83" fill="#9ecae1" fill-opacity="0.7" stroke="#08111c" stroke-width="0.75"/>
<rect x="85.13" y="433.68" width="9.35" height="17.77" fill="#9ecae1" fill-opacity="0.7" stroke="#08111c" stroke-width="0.75"/>
<rect x="94.47" y="446.92" width="9.35" height="4.53" fill="#9ecae1" fill-opacity="0.7" stroke="#08111c" stroke-width="0.75"/>
<rect x="103.82" y="448.29" width="9.35" height="3.16" fill="#9ecae1" fill-opacity="0.7" stroke="#08111c" stroke-width="0.75"/>
<rect x="113.17" y="447.10" width="9.35" height="4.35" fill="#9ecae1" fill-opacity="0.7" stroke="#08111c" stroke-width="0.75"/>
<rect x="122.51" y="449.64" width="9.35" height="1.81" fill="#9ecae1" fill-opacity="0.7" stroke="#08111c" stroke-width="0.75"/>
<polyline points="48.00,451.45 48.85,451.45 49.71,451.45 50.56,451.45 51.41,451.45 52.27,451.44 53.12,451.43 53.97,451.41 54.83,451.38 55.68,451.32 56.53,451.22 57.39,451.09 58.24,450.91 59.09,450.66 59.95,450.34 60.80,449.95 61.65,449.46 62.51,448.87 63.36,448.17 64.22,447.36 65.07,446.44 65.92,445.40 66.78,444.24 67.63,442.97 68.48,441.58 69.34,440.08 70.19,438.47 71.04,436.77 71.90,434.98 72.75,433.11 73.60,431.17 74.46,429.17 75.31,427.12 76.16,425.04 77.02,422.94 77.87,420.83 78.72,418.72 79.58,416.62 80.43,414.55 81.28,412.52 82.14,410.53 82.99,408.60 83.84,406.74 84.70,404.96 85.55,403.25 86.40,401.64 87.26,400.13 88.11,398.71 88.96,397.40 89.82,396.21 90.67,395.12 91.52,394.15 92.38,393.29 93.23,392.55 94.08,391.93 94.94,391.42 95.79,391.03 96.65,390.75 97.50,390.58 98.35,390.51 99.21,390.55 100.06,390.69 100.91,390.92 101.77,391.25 102.62,391.67 103.47,392.16 104.33,392.74 105.18,393.39 106.03,394.10 106.89,394.89 107.74,395.72 108.59,396.62 109.45,397.56 110.30,398.55 111.15,399.57 112.01,400.64 112.86,401.73 113.71,402.85 114.57,403.99 115.42,405.15 116.27,406.32 117.13,407.50 117.98,408.70 118.83,409.89 119.69,411.09 120.54,412.28 121.39,413.48 122.25,414.66 123.10,415.84 123.95,417.00 124.81,418.15 125.66,419.29 126.52,420.41 127.37,421.51 128.22,422.59 129.08,423.65 129.93,424.69 130.78,425.71 131.64,426.71 132.49,427.68 133.34,428.62 134.20,429.55 135.05,430.44 135.90,431.32 136.76,432.16 137.61,432.98 138.46,433.78 139.32,434.55 140.17,435.29 141.02,436.01 141.88,436.71 142.73,437.38 143.58,438.02 144.44,438.65 145.29,439.25 146.14,439.82 147.00,440.38 147.85,440.91 148.70,441.42 149.56,441.91 150.41,442.38 151.26,442.84 152.12,443.27 152.97,443.68 153.82,444.08 154.68,444.45 155.53,444.81 156.38,445.16 157.24,445.49 158.09,445.80 158.95,446.10 159.80,446.39 160.65,446.66 161.51,446.92 162.36,447.16 163.21,447.40 164.07,447.62 164.92,447.83 165.77,448.03 166.63,448.22 167.48,448.40 168.33,448.57 169.19,448.74 170.04,448.89 170.89,449.04 171.75,449.18 172.60,449.31 173.45,449.43 174.31,449.55 175.16,449.66 176.01,449.77 176.87,449.86 177.72,449.96 178.57,450.05 179.43,450.13 180.28,450.21 181.13,450.28 181.99,450.36 182.84,450.42 183.69,450.48 184.55,450.54 185.40,450.60 186.25,450.65 187.11,450.70 187.96,450.75 188.82,450.79 189.67,450.83 190.52,450.87 191.38,450.91 192.23,450.94 193.08,450.97 193.94,451.00 194.79,451.03 195.64,451.06 196.50,451.08 197.35,451.11 198.20,451.13 199.06,451.15 199.91,451.17 200.76,451.19 201.62,451.20 202.47,451.22 203.32,451.24 204.18,451.25 205.03,451.26 205.88,451.27 206.74,451.29 207.59,451.30 208.44,451.31 209.30,451.32 210.15,451.33 211.00,451.33 211.86,451.34 212.71,451.35 213.56,451.36 214.42,451.36 215.27,451.37 216.12,451.37 216.98,451.38 217.83,451.38 218.68,451.39 219.54,451.39 220.39,451.40 221.25,451.40 222.10,451.40 222.95,451.41 223.81,451.41 224.66,451.41 225.51,451.41 226.37,451.42 227.22,451.42 228.07,451.42 228.93,451.42 229.78,451.43 230.63,451.43 231.49,451.43 232.34,451.43 233.19,451.43 234.05,451.43 234.90,451.43" fill="none" stroke="#e8141c" stroke-width="1.0"/>
<polyline points="48.00,451.45 48.85,451.35 49.71,451.13 50.56,450.81 51.41,450.41 52.27,449.93 53.12,449.38 53.97,448.76 54.83,448.08 55.68,447.33 56.53,446.53 57.39,445.67 58.24,444.76 59.09,443.80 59.95,442.78 60.80,441.73 61.65,440.63 62.51,439.48 63.36,438.30 64.22,437.08 65.07,435.83 65.92,434.55 66.78,433.23 67.63,431.89 68.48,430.53 69.34,429.15 70.19,427.74 71.04,426.32 71.90,424.89 72.75,423.46 73.60,422.01 74.46,420.56 75.31,419.11 76.16,417.67 77.02,416.23 77.87,414.80 78.72,413.38 79.58,411.98 80.43,410.60 81.28,409.24 82.14,407.91 82.99,406.61 83.84,405.34 84.70,404.10 85.55,402.90 86.40,401.74 87.26,400.63 88.11,399.56 88.96,398.54 89.82,397.58 90.67,396.67 91.52,395.81 92.38,395.01 93.23,394.27 94.08,393.60 94.94,392.99 95.79,392.44 96.65,391.96 97.50,391.55 98.35,391.20 99.21,390.92 100.06,390.72 100.91,390.58 101.77,390.51 102.62,390.51 103.47,390.58 104.33,390.72 105.18,390.93 106.03,391.21 106.89,391.55 107.74,391.95 108.59,392.42 109.45,392.95 110.30,393.54 111.15,394.19 112.01,394.89 112.86,395.65 113.71,396.45 114.57,397.31 115.42,398.21 116.27,399.15 117.13,400.14 117.98,401.16 118.83,402.21 119.69,403.30 120.54,404.42 121.39,405.56 122.25,406.72 123.10,407.90 123.95,409.10 124.81,410.32 125.66,411.54 126.52,412.77 127.37,414.00 128.22,415.24 129.08,416.47 129.93,417.70 130.78,418.93 131.64,420.15 132.49,421.35 133.34,422.54 134.20,423.72 135.05,424.88 135.90,426.02 136.76,427.14 137.61,428.24 138.46,429.32 139.32,430.37 140.17,431.39 141.02,432.39 141.88,433.36 142.73,434.30 143.58,435.21 144.44,436.09 145.29,436.94 146.14,437.76 147.00,438.55 147.85,439.31 148.70,440.03 149.56,440.73 150.41,441.40 151.26,442.04 152.12,442.64 152.97,443.22 153.82,443.77 154.68,444.30 155.53,444.79 156.38,445.26 157.24,445.71 158.09,446.12 158.95,446.52 159.80,446.89 160.65,447.24 161.51,447.56 162.36,447.87 163.21,448.16 164.07,448.42 164.92,448.67 165.77,448.91 166.63,449.12 167.48,449.32 168.33,449.51 169.19,449.68 170.04,449.84 170.89,449.98 171.75,450.12 172.60,450.24 173.45,450.36 174.31,450.46 175.16,450.56 176.01,450.65 176.87,450.73 177.72,450.80 178.57,450.87 179.43,450.93 180.28,450.98 181.13,451.03 181.99,451.08 182.84,451.12 183.69,451.15 184.55,451.19 185.40,451.22 186.25,451.24 187.11,451.27 187.96,451.29 188.82,451.31 189.67,451.32 190.52,451.34 191.38,451.35 192.23,451.36 193.08,451.37 193.94,451.38 194.79,451.39 195.64,451.40 196.50,451.41 197.35,451.41 198.20,451.42 199.06,451.42 199.91,451.43 200.76,451.43 201.62,451.43 202.47,451.43 203.32,451.44 204.18,451.44 205.03,451.44 205.88,451.44 206.74,451.44 207.59,451.44 208.44,451.44 209.30,451.45 210.15,451.45 211.00,451.45 211.86,451.45 212.71,451.45 213.56,451.45 214.42,451.45 215.27,451.45 216.12,451.45 216.98,451.45 217.83,451.45 218.68,451.45 219.54,451.45 220.39,451.45 221.25,451.45 222.10,451.45 222.95,451.45 223.81,451.45 224.66,451.45 225.51,451.45 226.37,451.45 227.22,451.45 228.07,451.45 228.93,451.45 229.78,451.45 230.63,451.45 231.49,451.45 232.34,451.45 233.19,451.45 234.05,451.45 234.90,451.45" fill="none" stroke="#e8141c" stroke-width="1.1" stroke-dasharray="4.4 2.8"/>
<polyline points="48.00,451.45 48.85,451.45 49.71,451.45 50.56,451.45 51.41,451.45 52.27,451.45 53.12,451.45 53.97,451.45 54.83,451.45 55.68,451.44 56.53,451.43 57.39,451.41 58.24,451.36 59.09,451.28 59.95,451.14 60.80,450.93 61.65,450.63 62.51,450.21 63.36,449.65 64.22,448.94 65.07,448.06 65.92,447.00 66.78,445.75 67.63,444.32 68.48,442.70 69.34,440.91 70.19,438.96 71.04,436.86 71.90,434.64 72.75,432.30 73.60,429.88 74.46,427.41 75.31,424.89 76.16,422.36 77.02,419.83 77.87,417.34 78.72,414.89 79.58,412.51 80.43,410.22 81.28,408.02 82.14,405.93 82.99,403.97 83.84,402.13 84.70,400.44 85.55,398.88 86.40,397.47 87.26,396.21 88.11,395.10 88.96,394.13 89.82,393.31 90.67,392.63 91.52,392.09 92.38,391.69 93.23,391.42 94.08,391.27 94.94,391.24 95.79,391.32 96.65,391.51 97.50,391.79 98.35,392.17 99.21,392.64 100.06,393.18 100.91,393.80 101.77,394.49 102.62,395.24 103.47,396.04 104.33,396.89 105.18,397.79 106.03,398.72 106.89,399.69 107.74,400.68 108.59,401.70 109.45,402.74 110.30,403.80 111.15,404.87 112.01,405.95 112.86,407.03 113.71,408.12 114.57,409.20 115.42,410.29 116.27,411.37 117.13,412.44 117.98,413.50 118.83,414.56 119.69,415.60 120.54,416.63 121.39,417.64 122.25,418.64 123.10,419.62 123.95,420.58 124.81,421.53 125.66,422.46 126.52,423.36 127.37,424.25 128.22,425.12 129.08,425.97 129.93,426.79 130.78,427.60 131.64,428.39 132.49,429.15 133.34,429.90 134.20,430.62 135.05,431.33 135.90,432.02 136.76,432.68 137.61,433.33 138.46,433.95 139.32,434.56 140.17,435.15 141.02,435.73 141.88,436.28 142.73,436.82 143.58,437.34 144.44,437.84 145.29,438.32 146.14,438.80 147.00,439.25 147.85,439.69 148.70,440.12 149.56,440.53 150.41,440.92 151.26,441.31 152.12,441.68 152.97,442.03 153.82,442.38 154.68,442.71 155.53,443.03 156.38,443.34 157.24,443.64 158.09,443.93 158.95,444.21 159.80,444.48 160.65,444.74 161.51,444.98 162.36,445.22 163.21,445.46 164.07,445.68 164.92,445.89 165.77,446.10 166.63,446.30 167.48,446.49 168.33,446.68 169.19,446.85 170.04,447.03 170.89,447.19 171.75,447.35 172.60,447.50 173.45,447.65 174.31,447.79 175.16,447.93 176.01,448.06 176.87,448.19 177.72,448.31 178.57,448.43 179.43,448.54 180.28,448.65 181.13,448.75 181.99,448.85 182.84,448.95 183.69,449.04 184.55,449.13 185.40,449.22 186.25,449.30 187.11,449.38 187.96,449.46 188.82,449.53 189.67,449.60 190.52,449.67 191.38,449.74 192.23,449.80 193.08,449.86 193.94,449.92 194.79,449.98 195.64,450.03 196.50,450.09 197.35,450.14 198.20,450.18 199.06,450.23 199.91,450.28 200.76,450.32 201.62,450.36 202.47,450.40 203.32,450.44 204.18,450.48 205.03,450.51 205.88,450.55 206.74,450.58 207.59,450.61 208.44,450.64 209.30,450.67 210.15,450.70 211.00,450.73 211.86,450.75 212.71,450.78 213.56,450.80 214.42,450.83 215.27,450.85 216.12,450.87 216.98,450.89 217.83,450.91 218.68,450.93 219.54,450.95 220.39,450.97 221.25,450.99 222.10,451.00 222.95,451.02 223.81,451.03 224.66,451.05 225.51,451.06 226.37,451.08 227.22,451.09 228.07,451.10 228.93,451.12 229.78,451.13 230.63,451.14 231.49,451.15 232.34,451.16 233.19,451.17 234.05,451.18 234.90,451.19" fill="none" stroke="#e8141c" stroke-width="1.1" stroke-dasharray="1.2 1.9"/>
<polyline points="48.00,451.45 48.85,451.44 49.71,451.25 50.56,450.50 51.41,448.75 52.27,445.61 53.12,440.84 53.97,434.35 54.83,426.17 55.68,416.50 56.53,405.61 57.39,393.82 58.24,381.50 59.09,369.00 59.95,356.69 60.80,344.87 61.65,333.81 62.51,323.74 63.36,314.82 64.22,307.18 65.07,300.89 65.92,295.98 66.78,292.44 67.63,290.24 68.48,289.31 69.34,289.57 70.19,290.92 71.04,293.26 71.90,296.46 72.75,300.41 73.60,305.00 74.46,310.12 75.31,315.66 76.16,321.52 77.02,327.61 77.87,333.85 78.72,340.16 79.58,346.47 80.43,352.73 81.28,358.89 82.14,364.90 82.99,370.74 83.84,376.37 84.70,381.78 85.55,386.94 86.40,391.86 87.26,396.51 88.11,400.90 88.96,405.03 89.82,408.90 90.67,412.52 91.52,415.89 92.38,419.02 93.23,421.92 94.08,424.60 94.94,427.08 95.79,429.35 96.65,431.44 97.50,433.36 98.35,435.11 99.21,436.72 100.06,438.18 100.91,439.50 101.77,440.71 102.62,441.81 103.47,442.80 104.33,443.70 105.18,444.51 106.03,445.24 106.89,445.91 107.74,446.50 108.59,447.03 109.45,447.51 110.30,447.95 111.15,448.33 112.01,448.68 112.86,448.99 113.71,449.26 114.57,449.51 115.42,449.73 116.27,449.93 117.13,450.10 117.98,450.26 118.83,450.39 119.69,450.52 120.54,450.63 121.39,450.72 122.25,450.81 123.10,450.88 123.95,450.95 124.81,451.01 125.66,451.06 126.52,451.11 127.37,451.15 128.22,451.19 129.08,451.22 129.93,451.25 130.78,451.27 131.64,451.29 132.49,451.31 133.34,451.33 134.20,451.34 135.05,451.36 135.90,451.37 136.76,451.38 137.61,451.39 138.46,451.40 139.32,451.40 140.17,451.41 141.02,451.41 141.88,451.42 142.73,451.42 143.58,451.43 144.44,451.43 145.29,451.43 146.14,451.43 147.00,451.44 147.85,451.44 148.70,451.44 149.56,451.44 150.41,451.44 151.26,451.44 152.12,451.44 152.97,451.44 153.82,451.45 154.68,451.45 155.53,451.45 156.38,451.45 157.24,451.45 158.09,451.45 158.95,451.45 159.80,451.45 160.65,451.45 161.51,451.45 162.36,451.45 163.21,451.45 164.07,451.45 164.92,451.45 165.77,451.45 166.63,451.45 167.48,451.45 168.33,451.45 169.19,451.45 170.04,451.45 170.89,451.45 171.75,451.45 172.60,451.45 173.45,451.45 174.31,451.45 175.16,451.45 176.01,451.45 176.87,451.45 177.72,451.45 178.57,451.45 179.43,451.45 180.28,451.45 181.13,451.45 181.99,451.45 182.84,451.45 183.69,451.45 184.55,451.45 185.40,451.45 186.25,451.45 187.11,451.45 187.96,451.45 188.82,451.45 189.67,451.45 190.52,451.45 191.38,451.45 192.23,451.45 193.08,451.45 193.94,451.45 194.79,451.45 195.64,451.45 196.50,451.45 197.35,451.45 198.20,451.45 199.06,451.45 199.91,451.45 200.76,451.45 201.62,451.45 202.47,451.45 203.32,451.45 204.18,451.45 205.03,451.45 205.88,451.45 206.74,451.45 207.59,451.45 208.44,451.45 209.30,451.45 210.15,451.45 211.00,451.45 211.86,451.45 212.71,451.45 213.56,451.45 214.42,451.45 215.27,451.45 216.12,451.45 216.98,451.45 217.83,451.45 218.68,451.45 219.54,451.45 220.39,451.45 221.25,451.45 222.10,451.45 222.95,451.45 223.81,451.45 224.66,451.45 225.51,451.45 226.37,451.45 227.22,451.45 228.07,451.45 228.93,451.45 229.78,451.45 230.63,451.45 231.49,451.45 232.34,451.45 233.19,451.45 234.05,451.45 234.90,451.45" fill="none" stroke="#111" stroke-width="1.0"/>
<polyline points="48.00,451.45 48.85,436.36 49.71,423.37 50.56,411.21 51.41,399.68 52.27,388.70 53.12,378.26 53.97,368.36 54.83,359.01 55.68,350.22 56.53,342.00 57.39,334.37 58.24,327.32 59.09,320.88 59.95,315.05 60.80,309.82 61.65,305.21 62.51,301.20 63.36,297.80 64.22,294.98 65.07,292.75 65.92,291.08 66.78,289.97 67.63,289.38 68.48,289.31 69.34,289.72 70.19,290.60 71.04,291.92 71.90,293.64 72.75,295.75 73.60,298.21 74.46,300.99 75.31,304.08 76.16,307.42 77.02,311.01 77.87,314.80 78.72,318.78 79.58,322.90 80.43,327.15 81.28,331.51 82.14,335.93 82.99,340.41 83.84,344.92 84.70,349.44 85.55,353.95 86.40,358.42 87.26,362.86 88.11,367.23 88.96,371.52 89.82,375.73 90.67,379.84 91.52,383.84 92.38,387.73 93.23,391.49 94.08,395.13 94.94,398.63 95.79,401.99 96.65,405.22 97.50,408.30 98.35,411.24 99.21,414.04 100.06,416.70 100.91,419.23 101.77,421.61 102.62,423.86 103.47,425.98 104.33,427.97 105.18,429.84 106.03,431.59 106.89,433.23 107.74,434.76 108.59,436.18 109.45,437.50 110.30,438.72 111.15,439.86 112.01,440.91 112.86,441.87 113.71,442.77 114.57,443.59 115.42,444.34 116.27,445.03 117.13,445.66 117.98,446.24 118.83,446.76 119.69,447.24 120.54,447.68 121.39,448.07 122.25,448.43 123.10,448.75 123.95,449.04 124.81,449.31 125.66,449.54 126.52,449.76 127.37,449.95 128.22,450.12 129.08,450.28 129.93,450.41 130.78,450.53 131.64,450.64 132.49,450.74 133.34,450.83 134.20,450.90 135.05,450.97 135.90,451.03 136.76,451.08 137.61,451.13 138.46,451.17 139.32,451.21 140.17,451.24 141.02,451.27 141.88,451.29 142.73,451.31 143.58,451.33 144.44,451.35 145.29,451.36 146.14,451.37 147.00,451.38 147.85,451.39 148.70,451.40 149.56,451.41 150.41,451.41 151.26,451.42 152.12,451.42 152.97,451.43 153.82,451.43 154.68,451.43 155.53,451.44 156.38,451.44 157.24,451.44 158.09,451.44 158.95,451.44 159.80,451.44 160.65,451.45 161.51,451.45 162.36,451.45 163.21,451.45 164.07,451.45 164.92,451.45 165.77,451.45 166.63,451.45 167.48,451.45 168.33,451.45 169.19,451.45 170.04,451.45 170.89,451.45 171.75,451.45 172.60,451.45 173.45,451.45 174.31,451.45 175.16,451.45 176.01,451.45 176.87,451.45 177.72,451.45 178.57,451.45 179.43,451.45 180.28,451.45 181.13,451.45 181.99,451.45 182.84,451.45 183.69,451.45 184.55,451.45 185.40,451.45 186.25,451.45 187.11,451.45 187.96,451.45 188.82,451.45 189.67,451.45 190.52,451.45 191.38,451.45 192.23,451.45 193.08,451.45 193.94,451.45 194.79,451.45 195.64,451.45 196.50,451.45 197.35,451.45 198.20,451.45 199.06,451.45 199.91,451.45 200.76,451.45 201.62,451.45 202.47,451.45 203.32,451.45 204.18,451.45 205.03,451.45 205.88,451.45 206.74,451.45 207.59,451.45 208.44,451.45 209.30,451.45 210.15,451.45 211.00,451.45 211.86,451.45 212.71,451.45 213.56,451.45 214.42,451.45 215.27,451.45 216.12,451.45 216.98,451.45 217.83,451.45 218.68,451.45 219.54,451.45 220.39,451.45 221.25,451.45 222.10,451.45 222.95,451.45 223.81,451.45 224.66,451.45 225.51,451.45 226.37,451.45 227.22,451.45 228.07,451.45 228.93,451.45 229.78,451.45 230.63,451.45 231.49,451.45 232.34,451.45 233.19,451.45 234.05,451.45 234.90,451.45" fill="none" stroke="#111" stroke-width="0.9" stroke-dasharray="4.4 2.8"/>
<polyline points="48.00,451.45 48.85,451.45 49.71,451.45 50.56,451.41 51.41,451.09 52.27,449.92 53.12,447.09 53.97,441.93 54.83,434.10 55.68,423.70 56.53,411.14 57.39,397.08 58.24,382.22 59.09,367.27 59.95,352.85 60.80,339.44 61.65,327.41 62.51,316.99 63.36,308.31 64.22,301.40 65.07,296.22 65.92,292.69 66.78,290.67 67.63,290.04 68.48,290.62 69.34,292.27 70.19,294.82 71.04,298.13 71.90,302.06 72.75,306.48 73.60,311.29 74.46,316.38 75.31,321.67 76.16,327.08 77.02,332.54 77.87,338.00 78.72,343.41 79.58,348.74 80.43,353.96 81.28,359.04 82.14,363.96 82.99,368.72 83.84,373.29 84.70,377.68 85.55,381.88 86.40,385.89 87.26,389.70 88.11,393.33 88.96,396.77 89.82,400.04 90.67,403.12 91.52,406.04 92.38,408.80 93.23,411.40 94.08,413.85 94.94,416.16 95.79,418.33 96.65,420.37 97.50,422.29 98.35,424.09 99.21,425.78 100.06,427.37 100.91,428.87 101.77,430.27 102.62,431.58 103.47,432.81 104.33,433.96 105.18,435.05 106.03,436.06 106.89,437.01 107.74,437.90 108.59,438.73 109.45,439.52 110.30,440.25 111.15,440.93 112.01,441.58 112.86,442.18 113.71,442.74 114.57,443.27 115.42,443.77 116.27,444.23 117.13,444.67 117.98,445.08 118.83,445.46 119.69,445.82 120.54,446.16 121.39,446.47 122.25,446.77 123.10,447.04 123.95,447.30 124.81,447.55 125.66,447.78 126.52,447.99 127.37,448.20 128.22,448.38 129.08,448.56 129.93,448.73 130.78,448.89 131.64,449.03 132.49,449.17 133.34,449.30 134.20,449.43 135.05,449.54 135.90,449.65 136.76,449.75 137.61,449.85 138.46,449.94 139.32,450.02 140.17,450.10 141.02,450.18 141.88,450.25 142.73,450.31 143.58,450.38 144.44,450.43 145.29,450.49 146.14,450.54 147.00,450.59 147.85,450.64 148.70,450.68 149.56,450.72 150.41,450.76 151.26,450.80 152.12,450.83 152.97,450.87 153.82,450.90 154.68,450.93 155.53,450.95 156.38,450.98 157.24,451.00 158.09,451.03 158.95,451.05 159.80,451.07 160.65,451.09 161.51,451.11 162.36,451.13 163.21,451.14 164.07,451.16 164.92,451.17 165.77,451.19 166.63,451.20 167.48,451.21 168.33,451.23 169.19,451.24 170.04,451.25 170.89,451.26 171.75,451.27 172.60,451.28 173.45,451.28 174.31,451.29 175.16,451.30 176.01,451.31 176.87,451.31 177.72,451.32 178.57,451.33 179.43,451.33 180.28,451.34 181.13,451.34 181.99,451.35 182.84,451.35 183.69,451.36 184.55,451.36 185.40,451.37 186.25,451.37 187.11,451.37 187.96,451.38 188.82,451.38 189.67,451.38 190.52,451.39 191.38,451.39 192.23,451.39 193.08,451.40 193.94,451.40 194.79,451.40 195.64,451.40 196.50,451.41 197.35,451.41 198.20,451.41 199.06,451.41 199.91,451.41 200.76,451.41 201.62,451.42 202.47,451.42 203.32,451.42 204.18,451.42 205.03,451.42 205.88,451.42 206.74,451.42 207.59,451.43 208.44,451.43 209.30,451.43 210.15,451.43 211.00,451.43 211.86,451.43 212.71,451.43 213.56,451.43 214.42,451.43 215.27,451.43 216.12,451.43 216.98,451.43 217.83,451.44 218.68,451.44 219.54,451.44 220.39,451.44 221.25,451.44 222.10,451.44 222.95,451.44 223.81,451.44 224.66,451.44 225.51,451.44 226.37,451.44 227.22,451.44 228.07,451.44 228.93,451.44 229.78,451.44 230.63,451.44 231.49,451.44 232.34,451.44 233.19,451.44 234.05,451.44 234.90,451.44" fill="none" stroke="#111" stroke-width="0.9" stroke-dasharray="1.2 1.9"/>
</g>
<line x1="48.00" x2="48.00" y1="451.45" y2="444.45" stroke="#000" stroke-width="1.55"/>
<line x1="85.38" x2="85.38" y1="451.45" y2="444.45" stroke="#000" stroke-width="1.55"/>
<line x1="122.76" x2="122.76" y1="451.45" y2="444.45" stroke="#000" stroke-width="1.55"/>
<line x1="160.14" x2="160.14" y1="451.45" y2="444.45" stroke="#000" stroke-width="1.55"/>
<line x1="197.52" x2="197.52" y1="451.45" y2="444.45" stroke="#000" stroke-width="1.55"/>
<line x1="234.90" x2="234.90" y1="451.45" y2="444.45" stroke="#000" stroke-width="1.55"/>
<line x1="66.69" x2="66.69" y1="451.45" y2="447.85" stroke="#000" stroke-width="1.55"/>
<line x1="104.07" x2="104.07" y1="451.45" y2="447.85" stroke="#000" stroke-width="1.55"/>
<line x1="141.45" x2="141.45" y1="451.45" y2="447.85" stroke="#000" stroke-width="1.55"/>
<line x1="178.83" x2="178.83" y1="451.45" y2="447.85" stroke="#000" stroke-width="1.55"/>
<line x1="216.21" x2="216.21" y1="451.45" y2="447.85" stroke="#000" stroke-width="1.55"/>
<line x1="48.00" x2="55.00" y1="451.45" y2="451.45" stroke="#000" stroke-width="1.55"/>
<line x1="48.00" x2="55.00" y1="378.90" y2="378.90" stroke="#000" stroke-width="1.55"/>
<line x1="48.00" x2="55.00" y1="306.36" y2="306.36" stroke="#000" stroke-width="1.55"/>
<line x1="48.00" x2="51.60" y1="415.18" y2="415.18" stroke="#000" stroke-width="1.55"/>
<line x1="48.00" x2="51.60" y1="342.63" y2="342.63" stroke="#000" stroke-width="1.55"/>
<line x1="48.00" x2="51.60" y1="270.09" y2="270.09" stroke="#000" stroke-width="1.55"/>
<rect x="48.00" y="251.95" width="186.90" height="199.50" fill="none" stroke="#000" stroke-width="1.55"/>
<text x="47.50" y="471.15" font-size="14.5" class="r" text-anchor="middle">0</text>
<text x="84.88" y="471.15" font-size="14.5" class="r" text-anchor="middle">2</text>
<text x="122.26" y="471.15" font-size="14.5" class="r" text-anchor="middle">4</text>
<text x="159.64" y="471.15" font-size="14.5" class="r" text-anchor="middle">6</text>
<text x="197.02" y="471.15" font-size="14.5" class="r" text-anchor="middle">8</text>
<text x="234.40" y="471.15" font-size="14.5" class="r" text-anchor="middle">10</text>
<text x="39.30" y="456.25" font-size="14.5" class="h" text-anchor="end">0.0</text>
<text x="39.30" y="383.70" font-size="14.5" class="h" text-anchor="end">0.2</text>
<text x="39.30" y="311.16" font-size="14.5" class="h" text-anchor="end">0.4</text>
<text x="140.85" y="486.85" font-size="17.3" text-anchor="middle"><tspan font-style="italic">α/</tspan>°</text>
<text transform="translate(11.9,351.40) rotate(-90)" font-size="17.3" letter-spacing="0.9" font-style="italic" text-anchor="middle">PDF</text>
<text x="53.20" y="269.95" font-size="17.2" class="h">(c)</text>
<clipPath id="cld"><rect x="272.30" y="251.95" width="186.90" height="199.50"/></clipPath>
<g clip-path="url(#cld)">
<rect x="272.00" y="425.70" width="12.46" height="25.75" fill="#3182bd" stroke="#08111c" stroke-width="0.75"/>
<rect x="284.46" y="390.41" width="12.46" height="61.04" fill="#3182bd" stroke="#08111c" stroke-width="0.75"/>
<rect x="296.92" y="385.53" width="12.46" height="65.92" fill="#3182bd" stroke="#08111c" stroke-width="0.75"/>
<rect x="309.38" y="385.53" width="12.46" height="65.92" fill="#3182bd" stroke="#08111c" stroke-width="0.75"/>
<rect x="321.84" y="394.63" width="12.46" height="56.82" fill="#3182bd" stroke="#08111c" stroke-width="0.75"/>
<rect x="334.30" y="396.98" width="12.46" height="54.47" fill="#3182bd" stroke="#08111c" stroke-width="0.75"/>
<rect x="346.76" y="408.74" width="12.46" height="42.71" fill="#3182bd" stroke="#08111c" stroke-width="0.75"/>
<rect x="359.22" y="422.15" width="12.46" height="29.30" fill="#3182bd" stroke="#08111c" stroke-width="0.75"/>
<rect x="371.68" y="433.91" width="12.46" height="17.54" fill="#3182bd" stroke="#08111c" stroke-width="0.75"/>
<rect x="384.14" y="438.58" width="12.46" height="12.87" fill="#3182bd" stroke="#08111c" stroke-width="0.75"/>
<rect x="396.60" y="443.28" width="12.46" height="8.17" fill="#3182bd" stroke="#08111c" stroke-width="0.75"/>
<rect x="409.06" y="446.39" width="12.46" height="5.06" fill="#3182bd" stroke="#08111c" stroke-width="0.75"/>
<rect x="421.52" y="449.67" width="12.46" height="1.78" fill="#3182bd" stroke="#08111c" stroke-width="0.75"/>
<rect x="433.98" y="450.56" width="12.46" height="0.89" fill="#3182bd" stroke="#08111c" stroke-width="0.75"/>
<rect x="272.00" y="358.67" width="12.46" height="92.78" fill="#9ecae1" fill-opacity="0.7" stroke="#08111c" stroke-width="0.75"/>
<rect x="284.46" y="283.65" width="12.46" height="167.80" fill="#9ecae1" fill-opacity="0.7" stroke="#08111c" stroke-width="0.75"/>
<rect x="296.92" y="354.45" width="12.46" height="97.00" fill="#9ecae1" fill-opacity="0.7" stroke="#08111c" stroke-width="0.75"/>
<rect x="309.38" y="402.62" width="12.46" height="48.83" fill="#9ecae1" fill-opacity="0.7" stroke="#08111c" stroke-width="0.75"/>
<rect x="321.84" y="428.37" width="12.46" height="23.08" fill="#9ecae1" fill-opacity="0.7" stroke="#08111c" stroke-width="0.75"/>
<rect x="334.30" y="438.80" width="12.46" height="12.65" fill="#9ecae1" fill-opacity="0.7" stroke="#08111c" stroke-width="0.75"/>
<rect x="346.76" y="447.90" width="12.46" height="3.55" fill="#9ecae1" fill-opacity="0.7" stroke="#08111c" stroke-width="0.75"/>
<rect x="359.22" y="449.67" width="12.46" height="1.78" fill="#9ecae1" fill-opacity="0.7" stroke="#08111c" stroke-width="0.75"/>
<polyline points="272.30,451.45 273.15,449.43 274.01,446.63 274.86,443.55 275.71,440.34 276.57,437.09 277.42,433.85 278.27,430.65 279.13,427.52 279.98,424.48 280.83,421.54 281.69,418.71 282.54,415.99 283.39,413.39 284.25,410.92 285.10,408.58 285.95,406.36 286.81,404.26 287.66,402.29 288.52,400.45 289.37,398.72 290.22,397.11 291.08,395.62 291.93,394.25 292.78,392.98 293.64,391.82 294.49,390.76 295.34,389.80 296.20,388.94 297.05,388.17 297.90,387.50 298.76,386.90 299.61,386.39 300.46,385.96 301.32,385.61 302.17,385.33 303.02,385.12 303.88,384.97 304.73,384.88 305.58,384.86 306.44,384.89 307.29,384.98 308.14,385.12 309.00,385.31 309.85,385.54 310.70,385.82 311.56,386.13 312.41,386.49 313.26,386.88 314.12,387.30 314.97,387.76 315.82,388.25 316.68,388.76 317.53,389.30 318.38,389.87 319.24,390.45 320.09,391.06 320.95,391.68 321.80,392.32 322.65,392.98 323.51,393.65 324.36,394.34 325.21,395.04 326.07,395.74 326.92,396.46 327.77,397.18 328.63,397.91 329.48,398.65 330.33,399.39 331.19,400.14 332.04,400.89 332.89,401.64 333.75,402.39 334.60,403.15 335.45,403.90 336.31,404.65 337.16,405.40 338.01,406.15 338.87,406.90 339.72,407.65 340.57,408.39 341.43,409.12 342.28,409.86 343.13,410.58 343.99,411.31 344.84,412.02 345.69,412.74 346.55,413.44 347.40,414.14 348.25,414.83 349.11,415.52 349.96,416.19 350.82,416.86 351.67,417.53 352.52,418.18 353.38,418.83 354.23,419.47 355.08,420.10 355.94,420.72 356.79,421.34 357.64,421.95 358.50,422.54 359.35,423.13 360.20,423.71 361.06,424.29 361.91,424.85 362.76,425.41 363.62,425.95 364.47,426.49 365.32,427.02 366.18,427.54 367.03,428.05 367.88,428.55 368.74,429.05 369.59,429.54 370.44,430.01 371.30,430.48 372.15,430.95 373.00,431.40 373.86,431.84 374.71,432.28 375.56,432.71 376.42,433.13 377.27,433.54 378.12,433.95 378.98,434.35 379.83,434.74 380.68,435.12 381.54,435.49 382.39,435.86 383.25,436.22 384.10,436.57 384.95,436.92 385.81,437.26 386.66,437.59 387.51,437.91 388.37,438.23 389.22,438.55 390.07,438.85 390.93,439.15 391.78,439.44 392.63,439.73 393.49,440.01 394.34,440.28 395.19,440.55 396.05,440.82 396.90,441.07 397.75,441.32 398.61,441.57 399.46,441.81 400.31,442.05 401.17,442.28 402.02,442.50 402.87,442.72 403.73,442.94 404.58,443.15 405.43,443.35 406.29,443.55 407.14,443.75 407.99,443.94 408.85,444.13 409.70,444.31 410.55,444.49 411.41,444.66 412.26,444.84 413.12,445.00 413.97,445.16 414.82,445.32 415.68,445.48 416.53,445.63 417.38,445.78 418.24,445.92 419.09,446.06 419.94,446.20 420.80,446.34 421.65,446.47 422.50,446.59 423.36,446.72 424.21,446.84 425.06,446.96 425.92,447.08 426.77,447.19 427.62,447.30 428.48,447.41 429.33,447.51 430.18,447.61 431.04,447.71 431.89,447.81 432.74,447.91 433.60,448.00 434.45,448.09 435.30,448.18 436.16,448.26 437.01,448.35 437.86,448.43 438.72,448.51 439.57,448.59 440.42,448.66 441.28,448.74 442.13,448.81 442.98,448.88 443.84,448.95 444.69,449.01 445.55,449.08 446.40,449.14 447.25,449.20 448.11,449.26 448.96,449.32 449.81,449.38 450.67,449.43 451.52,449.49 452.37,449.54 453.23,449.59 454.08,449.64 454.93,449.69 455.79,449.74 456.64,449.78 457.49,449.83 458.35,449.87 459.20,449.92" fill="none" stroke="#e8141c" stroke-width="1.15"/>
<polyline points="272.30,451.45 273.15,444.41 274.01,440.04 274.86,436.32 275.71,433.00 276.57,429.94 277.42,427.10 278.27,424.44 279.13,421.93 279.98,419.55 280.83,417.29 281.69,415.14 282.54,413.09 283.39,411.14 284.25,409.28 285.10,407.51 285.95,405.82 286.81,404.22 287.66,402.69 288.52,401.23 289.37,399.85 290.22,398.55 291.08,397.31 291.93,396.14 292.78,395.03 293.64,393.99 294.49,393.01 295.34,392.10 296.20,391.25 297.05,390.45 297.90,389.72 298.76,389.04 299.61,388.42 300.46,387.85 301.32,387.33 302.17,386.87 303.02,386.46 303.88,386.10 304.73,385.79 305.58,385.52 306.44,385.30 307.29,385.13 308.14,385.00 309.00,384.91 309.85,384.87 310.70,384.86 311.56,384.90 312.41,384.97 313.26,385.08 314.12,385.22 314.97,385.41 315.82,385.62 316.68,385.87 317.53,386.14 318.38,386.45 319.24,386.79 320.09,387.16 320.95,387.55 321.80,387.97 322.65,388.41 323.51,388.88 324.36,389.36 325.21,389.88 326.07,390.41 326.92,390.96 327.77,391.53 328.63,392.11 329.48,392.72 330.33,393.34 331.19,393.97 332.04,394.62 332.89,395.28 333.75,395.95 334.60,396.63 335.45,397.33 336.31,398.03 337.16,398.74 338.01,399.46 338.87,400.18 339.72,400.92 340.57,401.65 341.43,402.40 342.28,403.14 343.13,403.89 343.99,404.64 344.84,405.40 345.69,406.15 346.55,406.91 347.40,407.67 348.25,408.43 349.11,409.18 349.96,409.94 350.82,410.69 351.67,411.44 352.52,412.18 353.38,412.93 354.23,413.67 355.08,414.40 355.94,415.14 356.79,415.86 357.64,416.58 358.50,417.30 359.35,418.01 360.20,418.71 361.06,419.41 361.91,420.10 362.76,420.78 363.62,421.46 364.47,422.13 365.32,422.79 366.18,423.44 367.03,424.08 367.88,424.72 368.74,425.35 369.59,425.96 370.44,426.57 371.30,427.18 372.15,427.77 373.00,428.35 373.86,428.93 374.71,429.49 375.56,430.05 376.42,430.59 377.27,431.13 378.12,431.66 378.98,432.18 379.83,432.69 380.68,433.19 381.54,433.68 382.39,434.16 383.25,434.63 384.10,435.09 384.95,435.55 385.81,435.99 386.66,436.43 387.51,436.85 388.37,437.27 389.22,437.68 390.07,438.08 390.93,438.47 391.78,438.85 392.63,439.22 393.49,439.59 394.34,439.94 395.19,440.29 396.05,440.63 396.90,440.96 397.75,441.28 398.61,441.60 399.46,441.91 400.31,442.21 401.17,442.50 402.02,442.78 402.87,443.06 403.73,443.33 404.58,443.59 405.43,443.85 406.29,444.10 407.14,444.34 407.99,444.57 408.85,444.80 409.70,445.03 410.55,445.24 411.41,445.45 412.26,445.66 413.12,445.86 413.97,446.05 414.82,446.24 415.68,446.42 416.53,446.59 417.38,446.76 418.24,446.93 419.09,447.09 419.94,447.25 420.80,447.40 421.65,447.54 422.50,447.68 423.36,447.82 424.21,447.95 425.06,448.08 425.92,448.21 426.77,448.33 427.62,448.44 428.48,448.56 429.33,448.67 430.18,448.77 431.04,448.87 431.89,448.97 432.74,449.07 433.60,449.16 434.45,449.25 435.30,449.33 436.16,449.42 437.01,449.50 437.86,449.57 438.72,449.65 439.57,449.72 440.42,449.79 441.28,449.85 442.13,449.92 442.98,449.98 443.84,450.04 444.69,450.10 445.55,450.15 446.40,450.21 447.25,450.26 448.11,450.31 448.96,450.35 449.81,450.40 450.67,450.44 451.52,450.49 452.37,450.53 453.23,450.57 454.08,450.60 454.93,450.64 455.79,450.67 456.64,450.71 457.49,450.74 458.35,450.77 459.20,450.80" fill="none" stroke="#e8141c" stroke-width="1.1" stroke-dasharray="4.4 2.8"/>
<polyline points="272.30,451.45 273.15,451.45 274.01,451.37 274.86,450.96 275.71,449.94 276.57,448.18 277.42,445.69 278.27,442.57 279.13,438.97 279.98,435.03 280.83,430.91 281.69,426.72 282.54,422.56 283.39,418.51 284.25,414.63 285.10,410.97 285.95,407.56 286.81,404.41 287.66,401.53 288.52,398.92 289.37,396.59 290.22,394.53 291.08,392.72 291.93,391.15 292.78,389.81 293.64,388.69 294.49,387.78 295.34,387.05 296.20,386.50 297.05,386.10 297.90,385.86 298.76,385.75 299.61,385.76 300.46,385.89 301.32,386.11 302.17,386.43 303.02,386.83 303.88,387.30 304.73,387.84 305.58,388.44 306.44,389.09 307.29,389.78 308.14,390.51 309.00,391.28 309.85,392.08 310.70,392.90 311.56,393.74 312.41,394.60 313.26,395.48 314.12,396.37 314.97,397.26 315.82,398.16 316.68,399.06 317.53,399.97 318.38,400.87 319.24,401.77 320.09,402.67 320.95,403.57 321.80,404.45 322.65,405.33 323.51,406.21 324.36,407.07 325.21,407.93 326.07,408.77 326.92,409.60 327.77,410.43 328.63,411.24 329.48,412.04 330.33,412.82 331.19,413.60 332.04,414.36 332.89,415.11 333.75,415.85 334.60,416.57 335.45,417.28 336.31,417.98 337.16,418.66 338.01,419.33 338.87,419.99 339.72,420.64 340.57,421.27 341.43,421.89 342.28,422.50 343.13,423.10 343.99,423.68 344.84,424.26 345.69,424.82 346.55,425.37 347.40,425.90 348.25,426.43 349.11,426.95 349.96,427.45 350.82,427.94 351.67,428.43 352.52,428.90 353.38,429.36 354.23,429.82 355.08,430.26 355.94,430.69 356.79,431.12 357.64,431.53 358.50,431.94 359.35,432.33 360.20,432.72 361.06,433.10 361.91,433.47 362.76,433.84 363.62,434.19 364.47,434.54 365.32,434.88 366.18,435.21 367.03,435.54 367.88,435.86 368.74,436.17 369.59,436.47 370.44,436.77 371.30,437.06 372.15,437.35 373.00,437.63 373.86,437.90 374.71,438.17 375.56,438.43 376.42,438.68 377.27,438.93 378.12,439.18 378.98,439.42 379.83,439.65 380.68,439.88 381.54,440.10 382.39,440.32 383.25,440.54 384.10,440.75 384.95,440.95 385.81,441.15 386.66,441.35 387.51,441.54 388.37,441.73 389.22,441.91 390.07,442.09 390.93,442.27 391.78,442.44 392.63,442.61 393.49,442.78 394.34,442.94 395.19,443.10 396.05,443.26 396.90,443.41 397.75,443.56 398.61,443.70 399.46,443.85 400.31,443.99 401.17,444.12 402.02,444.26 402.87,444.39 403.73,444.52 404.58,444.64 405.43,444.77 406.29,444.89 407.14,445.00 407.99,445.12 408.85,445.23 409.70,445.35 410.55,445.45 411.41,445.56 412.26,445.67 413.12,445.77 413.97,445.87 414.82,445.97 415.68,446.06 416.53,446.16 417.38,446.25 418.24,446.34 419.09,446.43 419.94,446.52 420.80,446.61 421.65,446.69 422.50,446.77 423.36,446.85 424.21,446.93 425.06,447.01 425.92,447.08 426.77,447.16 427.62,447.23 428.48,447.30 429.33,447.37 430.18,447.44 431.04,447.51 431.89,447.58 432.74,447.64 433.60,447.71 434.45,447.77 435.30,447.83 436.16,447.89 437.01,447.95 437.86,448.01 438.72,448.06 439.57,448.12 440.42,448.18 441.28,448.23 442.13,448.28 442.98,448.33 443.84,448.38 444.69,448.43 445.55,448.48 446.40,448.53 447.25,448.58 448.11,448.62 448.96,448.67 449.81,448.71 450.67,448.76 451.52,448.80 452.37,448.84 453.23,448.89 454.08,448.93 454.93,448.97 455.79,449.01 456.64,449.04 457.49,449.08 458.35,449.12 459.20,449.16" fill="none" stroke="#e8141c" stroke-width="1.1" stroke-dasharray="1.2 1.9"/>
<polyline points="272.30,451.45 275.10,365.07 287.31,284.09 299.53,332.38 311.74,382.62 323.95,415.21 336.16,433.36 348.37,442.72 360.58,447.34 372.79,449.55 385.00,450.58 397.21,451.06 409.42,451.27 421.63,451.37 433.84,451.42 446.05,451.43 458.27,451.44" fill="none" stroke="#111" stroke-width="1.15"/>
<polyline points="272.30,451.45 275.10,369.67 287.31,284.09 299.53,315.59 311.74,372.43 323.95,414.94 336.16,437.46 348.37,446.89 360.58,450.17 372.79,451.13 385.00,451.38 397.21,451.44 409.42,451.45 421.63,451.45 433.84,451.45 446.05,451.45 458.27,451.45" fill="none" stroke="#111" stroke-width="1.0" stroke-dasharray="4.4 2.8"/>
<polyline points="272.30,451.45 275.10,376.94 287.31,284.09 299.53,363.82 311.74,405.70 323.95,426.15 336.16,436.66 348.37,442.38 360.58,445.66 372.79,447.63 385.00,448.86 397.21,449.65 409.42,450.17 421.63,450.52 433.84,450.77 446.05,450.94 458.27,451.06" fill="none" stroke="#111" stroke-width="1.0" stroke-dasharray="1.2 1.9"/>
</g>
<line x1="272.30" x2="272.30" y1="451.45" y2="444.45" stroke="#000" stroke-width="1.55"/>
<line x1="297.22" x2="297.22" y1="451.45" y2="444.45" stroke="#000" stroke-width="1.55"/>
<line x1="322.14" x2="322.14" y1="451.45" y2="444.45" stroke="#000" stroke-width="1.55"/>
<line x1="347.06" x2="347.06" y1="451.45" y2="444.45" stroke="#000" stroke-width="1.55"/>
<line x1="371.98" x2="371.98" y1="451.45" y2="444.45" stroke="#000" stroke-width="1.55"/>
<line x1="396.90" x2="396.90" y1="451.45" y2="444.45" stroke="#000" stroke-width="1.55"/>
<line x1="421.82" x2="421.82" y1="451.45" y2="444.45" stroke="#000" stroke-width="1.55"/>
<line x1="446.74" x2="446.74" y1="451.45" y2="444.45" stroke="#000" stroke-width="1.55"/>
<line x1="284.76" x2="284.76" y1="451.45" y2="447.85" stroke="#000" stroke-width="1.55"/>
<line x1="309.68" x2="309.68" y1="451.45" y2="447.85" stroke="#000" stroke-width="1.55"/>
<line x1="334.60" x2="334.60" y1="451.45" y2="447.85" stroke="#000" stroke-width="1.55"/>
<line x1="359.52" x2="359.52" y1="451.45" y2="447.85" stroke="#000" stroke-width="1.55"/>
<line x1="384.44" x2="384.44" y1="451.45" y2="447.85" stroke="#000" stroke-width="1.55"/>
<line x1="409.36" x2="409.36" y1="451.45" y2="447.85" stroke="#000" stroke-width="1.55"/>
<line x1="434.28" x2="434.28" y1="451.45" y2="447.85" stroke="#000" stroke-width="1.55"/>
<line x1="272.30" x2="279.30" y1="451.45" y2="451.45" stroke="#000" stroke-width="1.55"/>
<line x1="272.30" x2="279.30" y1="407.06" y2="407.06" stroke="#000" stroke-width="1.55"/>
<line x1="272.30" x2="279.30" y1="362.66" y2="362.66" stroke="#000" stroke-width="1.55"/>
<line x1="272.30" x2="279.30" y1="318.27" y2="318.27" stroke="#000" stroke-width="1.55"/>
<line x1="272.30" x2="279.30" y1="273.88" y2="273.88" stroke="#000" stroke-width="1.55"/>
<line x1="272.30" x2="275.90" y1="429.25" y2="429.25" stroke="#000" stroke-width="1.55"/>
<line x1="272.30" x2="275.90" y1="384.86" y2="384.86" stroke="#000" stroke-width="1.55"/>
<line x1="272.30" x2="275.90" y1="340.47" y2="340.47" stroke="#000" stroke-width="1.55"/>
<line x1="272.30" x2="275.90" y1="296.08" y2="296.08" stroke="#000" stroke-width="1.55"/>
<rect x="272.30" y="251.95" width="186.90" height="199.50" fill="none" stroke="#000" stroke-width="1.55"/>
<text x="271.80" y="471.15" font-size="14.5" class="r" text-anchor="middle">0</text>
<text x="334.10" y="471.15" font-size="14.5" class="r" text-anchor="middle">10</text>
<text x="396.40" y="471.15" font-size="14.5" class="r" text-anchor="middle">20</text>
<text x="458.70" y="471.15" font-size="14.5" class="r" text-anchor="middle">30</text>
<text x="263.60" y="456.25" font-size="14.5" class="h" text-anchor="end">0.0</text>
<text x="263.60" y="411.86" font-size="14.5" class="h" text-anchor="end">0.1</text>
<text x="263.60" y="367.46" font-size="14.5" class="h" text-anchor="end">0.2</text>
<text x="263.60" y="323.07" font-size="14.5" class="h" text-anchor="end">0.3</text>
<text x="263.60" y="278.68" font-size="14.5" class="h" text-anchor="end">0.4</text>
<text x="365.15" y="485.75" font-size="17.3" text-anchor="middle"><tspan font-style="italic">φ/</tspan>°</text>
<text x="278.00" y="269.95" font-size="17.2" class="m">(d)</text>
<clipPath id="cle"><rect x="496.60" y="251.95" width="186.90" height="199.50"/></clipPath>
<g clip-path="url(#cle)">
<rect x="505.30" y="449.16" width="9.34" height="2.29" fill="#3182bd" stroke="#08111c" stroke-width="0.75"/>
<rect x="514.64" y="425.15" width="9.34" height="26.30" fill="#3182bd" stroke="#08111c" stroke-width="0.75"/>
<rect x="523.99" y="402.06" width="9.34" height="49.39" fill="#3182bd" stroke="#08111c" stroke-width="0.75"/>
<rect x="533.33" y="398.29" width="9.34" height="53.16" fill="#3182bd" stroke="#08111c" stroke-width="0.75"/>
<rect x="542.68" y="377.14" width="9.34" height="74.31" fill="#3182bd" stroke="#08111c" stroke-width="0.75"/>
<rect x="552.02" y="372.56" width="9.34" height="78.89" fill="#3182bd" stroke="#08111c" stroke-width="0.75"/>
<rect x="561.37" y="392.40" width="9.34" height="59.05" fill="#3182bd" stroke="#08111c" stroke-width="0.75"/>
<rect x="570.71" y="395.43" width="9.34" height="56.02" fill="#3182bd" stroke="#08111c" stroke-width="0.75"/>
<rect x="580.06" y="397.72" width="9.34" height="53.73" fill="#3182bd" stroke="#08111c" stroke-width="0.75"/>
<rect x="589.40" y="402.06" width="9.34" height="49.39" fill="#3182bd" stroke="#08111c" stroke-width="0.75"/>
<rect x="598.75" y="425.38" width="9.34" height="26.07" fill="#3182bd" stroke="#08111c" stroke-width="0.75"/>
<rect x="608.09" y="430.64" width="9.34" height="20.81" fill="#3182bd" stroke="#08111c" stroke-width="0.75"/>
<rect x="617.44" y="441.45" width="9.34" height="10.00" fill="#3182bd" stroke="#08111c" stroke-width="0.75"/>
<rect x="626.78" y="444.93" width="9.34" height="6.52" fill="#3182bd" stroke="#08111c" stroke-width="0.75"/>
<rect x="636.12" y="448.48" width="9.34" height="2.97" fill="#3182bd" stroke="#08111c" stroke-width="0.75"/>
<rect x="495.95" y="449.74" width="9.34" height="1.71" fill="#9ecae1" fill-opacity="0.7" stroke="#08111c" stroke-width="0.75"/>
<rect x="505.30" y="356.56" width="9.34" height="94.89" fill="#9ecae1" fill-opacity="0.7" stroke="#08111c" stroke-width="0.75"/>
<rect x="514.64" y="311.40" width="9.34" height="140.05" fill="#9ecae1" fill-opacity="0.7" stroke="#08111c" stroke-width="0.75"/>
<rect x="523.99" y="285.10" width="9.34" height="166.35" fill="#9ecae1" fill-opacity="0.7" stroke="#08111c" stroke-width="0.75"/>
<rect x="533.33" y="335.41" width="9.34" height="116.04" fill="#9ecae1" fill-opacity="0.7" stroke="#08111c" stroke-width="0.75"/>
<rect x="542.68" y="423.67" width="9.34" height="27.78" fill="#9ecae1" fill-opacity="0.7" stroke="#08111c" stroke-width="0.75"/>
<rect x="552.02" y="437.73" width="9.34" height="13.72" fill="#9ecae1" fill-opacity="0.7" stroke="#08111c" stroke-width="0.75"/>
<rect x="561.37" y="448.02" width="9.34" height="3.43" fill="#9ecae1" fill-opacity="0.7" stroke="#08111c" stroke-width="0.75"/>
<rect x="570.71" y="449.74" width="9.34" height="1.71" fill="#9ecae1" fill-opacity="0.7" stroke="#08111c" stroke-width="0.75"/>
<rect x="580.06" y="449.74" width="9.34" height="1.71" fill="#9ecae1" fill-opacity="0.7" stroke="#08111c" stroke-width="0.75"/>
<rect x="589.40" y="449.74" width="9.34" height="1.71" fill="#9ecae1" fill-opacity="0.7" stroke="#08111c" stroke-width="0.75"/>
<polyline points="496.60,451.45 497.45,451.45 498.31,451.45 499.16,451.44 500.01,451.42 500.87,451.38 501.72,451.31 502.57,451.20 503.43,451.03 504.28,450.79 505.13,450.46 505.99,450.05 506.84,449.53 507.69,448.90 508.55,448.15 509.40,447.28 510.25,446.28 511.11,445.15 511.96,443.89 512.82,442.50 513.67,440.98 514.52,439.35 515.38,437.59 516.23,435.73 517.08,433.77 517.94,431.72 518.79,429.58 519.64,427.37 520.50,425.10 521.35,422.77 522.20,420.41 523.06,418.01 523.91,415.59 524.76,413.17 525.62,410.75 526.47,408.34 527.32,405.95 528.18,403.60 529.03,401.28 529.88,399.02 530.74,396.81 531.59,394.66 532.44,392.59 533.30,390.60 534.15,388.68 535.00,386.86 535.86,385.13 536.71,383.49 537.56,381.96 538.42,380.52 539.27,379.19 540.12,377.96 540.98,376.84 541.83,375.83 542.68,374.93 543.54,374.13 544.39,373.43 545.25,372.85 546.10,372.36 546.95,371.98 547.81,371.70 548.66,371.51 549.51,371.42 550.37,371.42 551.22,371.51 552.07,371.69 552.93,371.95 553.78,372.29 554.63,372.71 555.49,373.20 556.34,373.76 557.19,374.38 558.05,375.07 558.90,375.81 559.75,376.61 560.61,377.46 561.46,378.36 562.31,379.30 563.17,380.29 564.02,381.31 564.87,382.37 565.73,383.46 566.58,384.57 567.43,385.71 568.29,386.88 569.14,388.06 569.99,389.26 570.85,390.47 571.70,391.69 572.55,392.93 573.41,394.17 574.26,395.41 575.12,396.66 575.97,397.90 576.82,399.15 577.68,400.39 578.53,401.63 579.38,402.86 580.24,404.08 581.09,405.29 581.94,406.49 582.80,407.68 583.65,408.86 584.50,410.02 585.36,411.17 586.21,412.30 587.06,413.42 587.92,414.52 588.77,415.60 589.62,416.66 590.48,417.70 591.33,418.73 592.18,419.73 593.04,420.71 593.89,421.68 594.74,422.62 595.60,423.55 596.45,424.45 597.30,425.33 598.16,426.19 599.01,427.03 599.86,427.85 600.72,428.65 601.57,429.43 602.42,430.19 603.28,430.92 604.13,431.64 604.98,432.34 605.84,433.02 606.69,433.68 607.55,434.32 608.40,434.94 609.25,435.54 610.11,436.13 610.96,436.70 611.81,437.25 612.67,437.78 613.52,438.29 614.37,438.79 615.23,439.28 616.08,439.74 616.93,440.20 617.79,440.63 618.64,441.05 619.49,441.46 620.35,441.86 621.20,442.24 622.05,442.60 622.91,442.96 623.76,443.30 624.61,443.63 625.47,443.95 626.32,444.25 627.17,444.55 628.03,444.83 628.88,445.11 629.73,445.37 630.59,445.62 631.44,445.87 632.29,446.10 633.15,446.33 634.00,446.54 634.85,446.75 635.71,446.95 636.56,447.15 637.42,447.33 638.27,447.51 639.12,447.68 639.98,447.84 640.83,448.00 641.68,448.15 642.54,448.30 643.39,448.44 644.24,448.57 645.10,448.70 645.95,448.82 646.80,448.94 647.66,449.05 648.51,449.16 649.36,449.26 650.22,449.36 651.07,449.45 651.92,449.55 652.78,449.63 653.63,449.71 654.48,449.79 655.34,449.87 656.19,449.94 657.04,450.01 657.90,450.08 658.75,450.14 659.60,450.20 660.46,450.26 661.31,450.32 662.16,450.37 663.02,450.42 663.87,450.47 664.72,450.52 665.58,450.56 666.43,450.60 667.28,450.64 668.14,450.68 668.99,450.72 669.85,450.75 670.70,450.79 671.55,450.82 672.41,450.85 673.26,450.88 674.11,450.91 674.97,450.93 675.82,450.96 676.67,450.98 677.53,451.00 678.38,451.03 679.23,451.05 680.09,451.07 680.94,451.08 681.79,451.10 682.65,451.12 683.50,451.14" fill="none" stroke="#e8141c" stroke-width="1.25"/>
<polyline points="496.60,451.45 497.45,451.37 498.31,451.18 499.16,450.91 500.01,450.55 500.87,450.12 501.72,449.62 502.57,449.05 503.43,448.42 504.28,447.73 505.13,446.98 505.99,446.17 506.84,445.31 507.69,444.39 508.55,443.43 509.40,442.41 510.25,441.34 511.11,440.23 511.96,439.07 512.82,437.87 513.67,436.63 514.52,435.35 515.38,434.03 516.23,432.68 517.08,431.29 517.94,429.87 518.79,428.41 519.64,426.94 520.50,425.43 521.35,423.90 522.20,422.35 523.06,420.79 523.91,419.20 524.76,417.60 525.62,415.99 526.47,414.37 527.32,412.74 528.18,411.11 529.03,409.48 529.88,407.85 530.74,406.23 531.59,404.61 532.44,403.00 533.30,401.40 534.15,399.82 535.00,398.25 535.86,396.71 536.71,395.18 537.56,393.69 538.42,392.22 539.27,390.79 540.12,389.38 540.98,388.02 541.83,386.69 542.68,385.41 543.54,384.17 544.39,382.97 545.25,381.83 546.10,380.73 546.95,379.69 547.81,378.70 548.66,377.77 549.51,376.90 550.37,376.08 551.22,375.33 552.07,374.64 552.93,374.02 553.78,373.46 554.63,372.96 555.49,372.54 556.34,372.18 557.19,371.89 558.05,371.67 558.90,371.52 559.75,371.43 560.61,371.42 561.46,371.48 562.31,371.60 563.17,371.79 564.02,372.05 564.87,372.38 565.73,372.77 566.58,373.23 567.43,373.75 568.29,374.33 569.14,374.97 569.99,375.67 570.85,376.43 571.70,377.24 572.55,378.11 573.41,379.03 574.26,380.00 575.12,381.01 575.97,382.07 576.82,383.17 577.68,384.31 578.53,385.49 579.38,386.70 580.24,387.94 581.09,389.22 581.94,390.52 582.80,391.84 583.65,393.18 584.50,394.55 585.36,395.93 586.21,397.32 587.06,398.73 587.92,400.14 588.77,401.56 589.62,402.98 590.48,404.40 591.33,405.82 592.18,407.24 593.04,408.65 593.89,410.05 594.74,411.44 595.60,412.82 596.45,414.19 597.30,415.53 598.16,416.87 599.01,418.18 599.86,419.47 600.72,420.74 601.57,421.98 602.42,423.20 603.28,424.40 604.13,425.57 604.98,426.71 605.84,427.82 606.69,428.90 607.55,429.96 608.40,430.98 609.25,431.97 610.11,432.94 610.96,433.87 611.81,434.77 612.67,435.64 613.52,436.48 614.37,437.28 615.23,438.06 616.08,438.81 616.93,439.52 617.79,440.21 618.64,440.87 619.49,441.50 620.35,442.10 621.20,442.67 622.05,443.22 622.91,443.74 623.76,444.23 624.61,444.70 625.47,445.14 626.32,445.57 627.17,445.96 628.03,446.34 628.88,446.70 629.73,447.03 630.59,447.35 631.44,447.65 632.29,447.93 633.15,448.19 634.00,448.44 634.85,448.67 635.71,448.88 636.56,449.08 637.42,449.27 638.27,449.45 639.12,449.61 639.98,449.76 640.83,449.90 641.68,450.03 642.54,450.15 643.39,450.26 644.24,450.37 645.10,450.46 645.95,450.55 646.80,450.63 647.66,450.71 648.51,450.77 649.36,450.84 650.22,450.90 651.07,450.95 651.92,451.00 652.78,451.04 653.63,451.08 654.48,451.12 655.34,451.15 656.19,451.18 657.04,451.21 657.90,451.23 658.75,451.26 659.60,451.28 660.46,451.30 661.31,451.31 662.16,451.33 663.02,451.34 663.87,451.35 664.72,451.36 665.58,451.37 666.43,451.38 667.28,451.39 668.14,451.40 668.99,451.40 669.85,451.41 670.70,451.41 671.55,451.42 672.41,451.42 673.26,451.43 674.11,451.43 674.97,451.43 675.82,451.43 676.67,451.44 677.53,451.44 678.38,451.44 679.23,451.44 680.09,451.44 680.94,451.44 681.79,451.44 682.65,451.44 683.50,451.45" fill="none" stroke="#e8141c" stroke-width="1.1" stroke-dasharray="4.4 2.8"/>
<polyline points="496.60,451.45 497.45,451.45 498.31,451.45 499.16,451.45 500.01,451.45 500.87,451.45 501.72,451.45 502.57,451.45 503.43,451.44 504.28,451.41 505.13,451.36 505.99,451.26 506.84,451.10 507.69,450.85 508.55,450.49 509.40,449.98 510.25,449.31 511.11,448.45 511.96,447.39 512.82,446.12 513.67,444.64 514.52,442.94 515.38,441.02 516.23,438.91 517.08,436.60 517.94,434.13 518.79,431.51 519.64,428.77 520.50,425.92 521.35,422.99 522.20,420.01 523.06,417.00 523.91,413.98 524.76,410.98 525.62,408.02 526.47,405.11 527.32,402.27 528.18,399.53 529.03,396.89 529.88,394.36 530.74,391.96 531.59,389.69 532.44,387.56 533.30,385.58 534.15,383.74 535.00,382.06 535.86,380.53 536.71,379.15 537.56,377.92 538.42,376.84 539.27,375.91 540.12,375.12 540.98,374.47 541.83,373.96 542.68,373.57 543.54,373.31 544.39,373.17 545.25,373.14 546.10,373.21 546.95,373.40 547.81,373.67 548.66,374.04 549.51,374.49 550.37,375.02 551.22,375.62 552.07,376.30 552.93,377.03 553.78,377.82 554.63,378.66 555.49,379.55 556.34,380.49 557.19,381.46 558.05,382.47 558.90,383.50 559.75,384.57 560.61,385.66 561.46,386.76 562.31,387.88 563.17,389.02 564.02,390.17 564.87,391.32 565.73,392.48 566.58,393.64 567.43,394.81 568.29,395.97 569.14,397.13 569.99,398.29 570.85,399.44 571.70,400.58 572.55,401.71 573.41,402.84 574.26,403.95 575.12,405.05 575.97,406.13 576.82,407.21 577.68,408.26 578.53,409.31 579.38,410.34 580.24,411.35 581.09,412.34 581.94,413.32 582.80,414.28 583.65,415.22 584.50,416.15 585.36,417.06 586.21,417.95 587.06,418.82 587.92,419.67 588.77,420.51 589.62,421.33 590.48,422.13 591.33,422.91 592.18,423.68 593.04,424.42 593.89,425.15 594.74,425.87 595.60,426.56 596.45,427.24 597.30,427.91 598.16,428.55 599.01,429.19 599.86,429.80 600.72,430.40 601.57,430.99 602.42,431.56 603.28,432.11 604.13,432.65 604.98,433.18 605.84,433.69 606.69,434.19 607.55,434.68 608.40,435.15 609.25,435.61 610.11,436.06 610.96,436.50 611.81,436.92 612.67,437.34 613.52,437.74 614.37,438.13 615.23,438.51 616.08,438.88 616.93,439.23 617.79,439.58 618.64,439.92 619.49,440.25 620.35,440.57 621.20,440.88 622.05,441.19 622.91,441.48 623.76,441.77 624.61,442.04 625.47,442.31 626.32,442.58 627.17,442.83 628.03,443.08 628.88,443.32 629.73,443.55 630.59,443.78 631.44,444.00 632.29,444.21 633.15,444.42 634.00,444.62 634.85,444.81 635.71,445.00 636.56,445.19 637.42,445.37 638.27,445.54 639.12,445.71 639.98,445.88 640.83,446.03 641.68,446.19 642.54,446.34 643.39,446.49 644.24,446.63 645.10,446.76 645.95,446.90 646.80,447.03 647.66,447.15 648.51,447.27 649.36,447.39 650.22,447.51 651.07,447.62 651.92,447.73 652.78,447.83 653.63,447.94 654.48,448.04 655.34,448.13 656.19,448.23 657.04,448.32 657.90,448.41 658.75,448.49 659.60,448.57 660.46,448.65 661.31,448.73 662.16,448.81 663.02,448.88 663.87,448.96 664.72,449.03 665.58,449.09 666.43,449.16 667.28,449.22 668.14,449.28 668.99,449.34 669.85,449.40 670.70,449.46 671.55,449.52 672.41,449.57 673.26,449.62 674.11,449.67 674.97,449.72 675.82,449.77 676.67,449.81 677.53,449.86 678.38,449.90 679.23,449.95 680.09,449.99 680.94,450.03 681.79,450.07 682.65,450.10 683.50,450.14" fill="none" stroke="#e8141c" stroke-width="1.1" stroke-dasharray="1.2 1.9"/>
<polyline points="496.60,451.45 497.45,451.45 498.31,451.43 499.16,451.33 500.01,450.99 500.87,450.22 501.72,448.79 502.57,446.47 503.43,443.07 504.28,438.48 505.13,432.63 505.99,425.55 506.84,417.30 507.69,408.03 508.55,397.94 509.40,387.24 510.25,376.17 511.11,364.97 511.96,353.89 512.82,343.15 513.67,332.96 514.52,323.49 515.38,314.90 516.23,307.29 517.08,300.75 517.94,295.34 518.79,291.08 519.64,287.97 520.50,285.99 521.35,285.10 522.20,285.25 523.06,286.35 523.91,288.33 524.76,291.11 525.62,294.59 526.47,298.70 527.32,303.32 528.18,308.39 529.03,313.81 529.88,319.50 530.74,325.38 531.59,331.40 532.44,337.49 533.30,343.59 534.15,349.64 535.00,355.62 535.86,361.48 536.71,367.19 537.56,372.72 538.42,378.06 539.27,383.18 540.12,388.08 540.98,392.74 541.83,397.17 542.68,401.35 543.54,405.30 544.39,409.01 545.25,412.48 546.10,415.73 546.95,418.76 547.81,421.57 548.66,424.19 549.51,426.61 550.37,428.84 551.22,430.90 552.07,432.80 552.93,434.54 553.78,436.14 554.63,437.60 555.49,438.94 556.34,440.16 557.19,441.28 558.05,442.29 558.90,443.21 559.75,444.04 560.61,444.80 561.46,445.48 562.31,446.10 563.17,446.66 564.02,447.17 564.87,447.62 565.73,448.03 566.58,448.40 567.43,448.73 568.29,449.02 569.14,449.29 569.99,449.53 570.85,449.74 571.70,449.93 572.55,450.10 573.41,450.25 574.26,450.39 575.12,450.51 575.97,450.62 576.82,450.71 577.68,450.80 578.53,450.87 579.38,450.94 580.24,451.00 581.09,451.05 581.94,451.10 582.80,451.14 583.65,451.18 584.50,451.21 585.36,451.24 586.21,451.26 587.06,451.29 587.92,451.31 588.77,451.32 589.62,451.34 590.48,451.35 591.33,451.36 592.18,451.38 593.04,451.38 593.89,451.39 594.74,451.40 595.60,451.41 596.45,451.41 597.30,451.42 598.16,451.42 599.01,451.42 599.86,451.43 600.72,451.43 601.57,451.43 602.42,451.43 603.28,451.44 604.13,451.44 604.98,451.44 605.84,451.44 606.69,451.44 607.55,451.44 608.40,451.44 609.25,451.44 610.11,451.45 610.96,451.45 611.81,451.45 612.67,451.45 613.52,451.45 614.37,451.45 615.23,451.45 616.08,451.45 616.93,451.45 617.79,451.45 618.64,451.45 619.49,451.45 620.35,451.45 621.20,451.45 622.05,451.45 622.91,451.45 623.76,451.45 624.61,451.45 625.47,451.45 626.32,451.45 627.17,451.45 628.03,451.45 628.88,451.45 629.73,451.45 630.59,451.45 631.44,451.45 632.29,451.45 633.15,451.45 634.00,451.45 634.85,451.45 635.71,451.45 636.56,451.45 637.42,451.45 638.27,451.45 639.12,451.45 639.98,451.45 640.83,451.45 641.68,451.45 642.54,451.45 643.39,451.45 644.24,451.45 645.10,451.45 645.95,451.45 646.80,451.45 647.66,451.45 648.51,451.45 649.36,451.45 650.22,451.45 651.07,451.45 651.92,451.45 652.78,451.45 653.63,451.45 654.48,451.45 655.34,451.45 656.19,451.45 657.04,451.45 657.90,451.45 658.75,451.45 659.60,451.45 660.46,451.45 661.31,451.45 662.16,451.45 663.02,451.45 663.87,451.45 664.72,451.45 665.58,451.45 666.43,451.45 667.28,451.45 668.14,451.45 668.99,451.45 669.85,451.45 670.70,451.45 671.55,451.45 672.41,451.45 673.26,451.45 674.11,451.45 674.97,451.45 675.82,451.45 676.67,451.45 677.53,451.45 678.38,451.45 679.23,451.45 680.09,451.45 680.94,451.45 681.79,451.45 682.65,451.45 683.50,451.45" fill="none" stroke="#111" stroke-width="1.25"/>
<polyline points="496.60,451.45 497.45,449.21 498.31,445.53 499.16,441.02 500.01,435.88 500.87,430.22 501.72,424.14 502.57,417.72 503.43,411.00 504.28,404.06 505.13,396.93 505.99,389.69 506.84,382.37 507.69,375.02 508.55,367.70 509.40,360.45 510.25,353.31 511.11,346.34 511.96,339.58 512.82,333.06 513.67,326.83 514.52,320.93 515.38,315.38 516.23,310.23 517.08,305.50 517.94,301.23 518.79,297.42 519.64,294.10 520.50,291.29 521.35,289.00 522.20,287.24 523.06,286.00 523.91,285.29 524.76,285.10 525.62,285.44 526.47,286.27 527.32,287.60 528.18,289.39 529.03,291.63 529.88,294.30 530.74,297.37 531.59,300.80 532.44,304.58 533.30,308.65 534.15,313.00 535.00,317.59 535.86,322.38 536.71,327.34 537.56,332.44 538.42,337.63 539.27,342.90 540.12,348.20 540.98,353.50 541.83,358.79 542.68,364.02 543.54,369.18 544.39,374.25 545.25,379.20 546.10,384.01 546.95,388.67 547.81,393.17 548.66,397.49 549.51,401.63 550.37,405.57 551.22,409.31 552.07,412.86 552.93,416.20 553.78,419.34 554.63,422.28 555.49,425.02 556.34,427.57 557.19,429.94 558.05,432.12 558.90,434.13 559.75,435.97 560.61,437.66 561.46,439.19 562.31,440.59 563.17,441.85 564.02,442.99 564.87,444.02 565.73,444.94 566.58,445.76 567.43,446.49 568.29,447.14 569.14,447.72 569.99,448.22 570.85,448.67 571.70,449.06 572.55,449.40 573.41,449.70 574.26,449.96 575.12,450.19 575.97,450.38 576.82,450.55 577.68,450.69 578.53,450.81 579.38,450.92 580.24,451.00 581.09,451.08 581.94,451.14 582.80,451.20 583.65,451.24 584.50,451.28 585.36,451.31 586.21,451.33 587.06,451.36 587.92,451.37 588.77,451.39 589.62,451.40 590.48,451.41 591.33,451.42 592.18,451.42 593.04,451.43 593.89,451.43 594.74,451.44 595.60,451.44 596.45,451.44 597.30,451.44 598.16,451.45 599.01,451.45 599.86,451.45 600.72,451.45 601.57,451.45 602.42,451.45 603.28,451.45 604.13,451.45 604.98,451.45 605.84,451.45 606.69,451.45 607.55,451.45 608.40,451.45 609.25,451.45 610.11,451.45 610.96,451.45 611.81,451.45 612.67,451.45 613.52,451.45 614.37,451.45 615.23,451.45 616.08,451.45 616.93,451.45 617.79,451.45 618.64,451.45 619.49,451.45 620.35,451.45 621.20,451.45 622.05,451.45 622.91,451.45 623.76,451.45 624.61,451.45 625.47,451.45 626.32,451.45 627.17,451.45 628.03,451.45 628.88,451.45 629.73,451.45 630.59,451.45 631.44,451.45 632.29,451.45 633.15,451.45 634.00,451.45 634.85,451.45 635.71,451.45 636.56,451.45 637.42,451.45 638.27,451.45 639.12,451.45 639.98,451.45 640.83,451.45 641.68,451.45 642.54,451.45 643.39,451.45 644.24,451.45 645.10,451.45 645.95,451.45 646.80,451.45 647.66,451.45 648.51,451.45 649.36,451.45 650.22,451.45 651.07,451.45 651.92,451.45 652.78,451.45 653.63,451.45 654.48,451.45 655.34,451.45 656.19,451.45 657.04,451.45 657.90,451.45 658.75,451.45 659.60,451.45 660.46,451.45 661.31,451.45 662.16,451.45 663.02,451.45 663.87,451.45 664.72,451.45 665.58,451.45 666.43,451.45 667.28,451.45 668.14,451.45 668.99,451.45 669.85,451.45 670.70,451.45 671.55,451.45 672.41,451.45 673.26,451.45 674.11,451.45 674.97,451.45 675.82,451.45 676.67,451.45 677.53,451.45 678.38,451.45 679.23,451.45 680.09,451.45 680.94,451.45 681.79,451.45 682.65,451.45 683.50,451.45" fill="none" stroke="#111" stroke-width="1.05" stroke-dasharray="4.4 2.8"/>
<polyline points="496.60,451.45 497.45,451.45 498.31,451.45 499.16,451.45 500.01,451.45 500.87,451.41 501.72,451.25 502.57,450.74 503.43,449.52 504.28,447.16 505.13,443.26 505.99,437.53 506.84,429.83 507.69,420.25 508.55,409.03 509.40,396.54 510.25,383.23 511.11,369.59 511.96,356.07 512.82,343.10 513.67,331.03 514.52,320.13 515.38,310.61 516.23,302.58 517.08,296.10 517.94,291.17 518.79,287.75 519.64,285.77 520.50,285.10 521.35,285.65 522.20,287.26 523.06,289.81 523.91,293.16 524.76,297.19 525.62,301.77 526.47,306.79 527.32,312.14 528.18,317.74 529.03,323.49 529.88,329.33 530.74,335.19 531.59,341.03 532.44,346.79 533.30,352.44 534.15,357.95 535.00,363.29 535.86,368.46 536.71,373.42 537.56,378.18 538.42,382.73 539.27,387.06 540.12,391.18 540.98,395.08 541.83,398.77 542.68,402.26 543.54,405.55 544.39,408.64 545.25,411.55 546.10,414.28 546.95,416.83 547.81,419.23 548.66,421.47 549.51,423.56 550.37,425.52 551.22,427.35 552.07,429.05 552.93,430.63 553.78,432.11 554.63,433.49 555.49,434.77 556.34,435.96 557.19,437.07 558.05,438.10 558.90,439.05 559.75,439.94 560.61,440.76 561.46,441.53 562.31,442.24 563.17,442.90 564.02,443.51 564.87,444.08 565.73,444.61 566.58,445.10 567.43,445.55 568.29,445.98 569.14,446.37 569.99,446.73 570.85,447.06 571.70,447.38 572.55,447.67 573.41,447.93 574.26,448.18 575.12,448.41 575.97,448.63 576.82,448.83 577.68,449.01 578.53,449.18 579.38,449.34 580.24,449.49 581.09,449.63 581.94,449.75 582.80,449.87 583.65,449.98 584.50,450.08 585.36,450.18 586.21,450.26 587.06,450.35 587.92,450.42 588.77,450.49 589.62,450.56 590.48,450.62 591.33,450.67 592.18,450.73 593.04,450.78 593.89,450.82 594.74,450.86 595.60,450.90 596.45,450.94 597.30,450.97 598.16,451.01 599.01,451.03 599.86,451.06 600.72,451.09 601.57,451.11 602.42,451.13 603.28,451.15 604.13,451.17 604.98,451.19 605.84,451.21 606.69,451.22 607.55,451.24 608.40,451.25 609.25,451.27 610.11,451.28 610.96,451.29 611.81,451.30 612.67,451.31 613.52,451.32 614.37,451.33 615.23,451.33 616.08,451.34 616.93,451.35 617.79,451.35 618.64,451.36 619.49,451.37 620.35,451.37 621.20,451.38 622.05,451.38 622.91,451.38 623.76,451.39 624.61,451.39 625.47,451.40 626.32,451.40 627.17,451.40 628.03,451.41 628.88,451.41 629.73,451.41 630.59,451.41 631.44,451.42 632.29,451.42 633.15,451.42 634.00,451.42 634.85,451.42 635.71,451.42 636.56,451.43 637.42,451.43 638.27,451.43 639.12,451.43 639.98,451.43 640.83,451.43 641.68,451.43 642.54,451.43 643.39,451.44 644.24,451.44 645.10,451.44 645.95,451.44 646.80,451.44 647.66,451.44 648.51,451.44 649.36,451.44 650.22,451.44 651.07,451.44 651.92,451.44 652.78,451.44 653.63,451.44 654.48,451.44 655.34,451.44 656.19,451.44 657.04,451.44 657.90,451.44 658.75,451.44 659.60,451.45 660.46,451.45 661.31,451.45 662.16,451.45 663.02,451.45 663.87,451.45 664.72,451.45 665.58,451.45 666.43,451.45 667.28,451.45 668.14,451.45 668.99,451.45 669.85,451.45 670.70,451.45 671.55,451.45 672.41,451.45 673.26,451.45 674.11,451.45 674.97,451.45 675.82,451.45 676.67,451.45 677.53,451.45 678.38,451.45 679.23,451.45 680.09,451.45 680.94,451.45 681.79,451.45 682.65,451.45 683.50,451.45" fill="none" stroke="#111" stroke-width="1.05" stroke-dasharray="1.2 1.9"/>
</g>
<line x1="496.60" x2="496.60" y1="451.45" y2="444.45" stroke="#000" stroke-width="1.55"/>
<line x1="552.67" x2="552.67" y1="451.45" y2="444.45" stroke="#000" stroke-width="1.55"/>
<line x1="608.74" x2="608.74" y1="451.45" y2="444.45" stroke="#000" stroke-width="1.55"/>
<line x1="664.81" x2="664.81" y1="451.45" y2="444.45" stroke="#000" stroke-width="1.55"/>
<line x1="524.63" x2="524.63" y1="451.45" y2="447.85" stroke="#000" stroke-width="1.55"/>
<line x1="580.71" x2="580.71" y1="451.45" y2="447.85" stroke="#000" stroke-width="1.55"/>
<line x1="636.77" x2="636.77" y1="451.45" y2="447.85" stroke="#000" stroke-width="1.55"/>
<line x1="496.60" x2="503.60" y1="451.45" y2="451.45" stroke="#000" stroke-width="1.55"/>
<line x1="496.60" x2="503.60" y1="394.29" y2="394.29" stroke="#000" stroke-width="1.55"/>
<line x1="496.60" x2="503.60" y1="337.12" y2="337.12" stroke="#000" stroke-width="1.55"/>
<line x1="496.60" x2="503.60" y1="279.96" y2="279.96" stroke="#000" stroke-width="1.55"/>
<line x1="496.60" x2="500.20" y1="422.87" y2="422.87" stroke="#000" stroke-width="1.55"/>
<line x1="496.60" x2="500.20" y1="365.71" y2="365.71" stroke="#000" stroke-width="1.55"/>
<line x1="496.60" x2="500.20" y1="308.54" y2="308.54" stroke="#000" stroke-width="1.55"/>
<rect x="496.60" y="251.95" width="186.90" height="199.50" fill="none" stroke="#000" stroke-width="1.55"/>
<text x="496.10" y="471.15" font-size="14.5" class="h" text-anchor="middle">0.00</text>
<text x="552.17" y="471.15" font-size="14.5" class="h" text-anchor="middle">0.03</text>
<text x="608.24" y="471.15" font-size="14.5" class="h" text-anchor="middle">0.06</text>
<text x="664.31" y="471.15" font-size="14.5" class="h" text-anchor="middle">0.09</text>
<text x="487.90" y="456.25" font-size="14.5" class="h" text-anchor="end">0.0</text>
<text x="487.90" y="399.09" font-size="14.5" class="h" text-anchor="end">0.1</text>
<text x="487.90" y="341.92" font-size="14.5" class="h" text-anchor="end">0.2</text>
<text x="487.90" y="284.76" font-size="14.5" class="h" text-anchor="end">0.3</text>
<text x="589.45" y="488.65" font-size="17.3" text-anchor="middle"><tspan font-style="italic">δ</tspan></text>
<text x="502.90" y="269.95" font-size="17.2" class="m">(e)</text>
<rect x="525.0" y="10.7" width="33.3" height="15.8" fill="#3182bd" stroke="#08111c" stroke-width="0.75"/>
<rect x="525.0" y="84.5" width="33.3" height="15.4" fill="#9ecae1" fill-opacity="0.7" stroke="#08111c" stroke-width="0.75"/>
<text x="562.7" y="23.6" font-size="14.65" class="m">Dunes</text>
<text x="562.7" y="41.9" font-size="14.65" class="m">Gamma fitting</text>
<text x="562.7" y="60.4" font-size="14.65" class="m">Weibull fitting</text>
<text x="562.7" y="78.9" font-size="14.65" class="m">Log-normal fitting</text>
<text x="562.7" y="97.3" font-size="14.65" class="m">Ripples</text>
<text x="562.7" y="115.6" font-size="14.65" class="m">Gamma fitting</text>
<text x="562.7" y="134.1" font-size="14.65" class="m">Weibull fitting</text>
<text x="562.7" y="152.6" font-size="14.65" class="m">Log-normal fitting</text>
<line x1="525.0" x2="559.1" y1="36.5" y2="36.5" stroke="#f0666a" stroke-width="0.9" />
<line x1="525.0" x2="559.1" y1="55.3" y2="55.3" stroke="#ee2a30" stroke-width="1.0" stroke-dasharray="3.9 2.95"/>
<line x1="525.0" x2="559.1" y1="73.6" y2="73.6" stroke="#f05055" stroke-width="1.0" stroke-dasharray="1.1 2.15" stroke-dashoffset="-0.5"/>
<line x1="525.0" x2="559.1" y1="110.65" y2="110.65" stroke="#333" stroke-width="0.85" />
<line x1="525.0" x2="559.1" y1="129.4" y2="129.4" stroke="#151515" stroke-width="1.0" stroke-dasharray="3.9 2.95"/>
<line x1="525.0" x2="559.1" y1="147.6" y2="147.6" stroke="#222" stroke-width="1.0" stroke-dasharray="1.1 2.15" stroke-dashoffset="-0.5"/>
</svg>
</body></html>
